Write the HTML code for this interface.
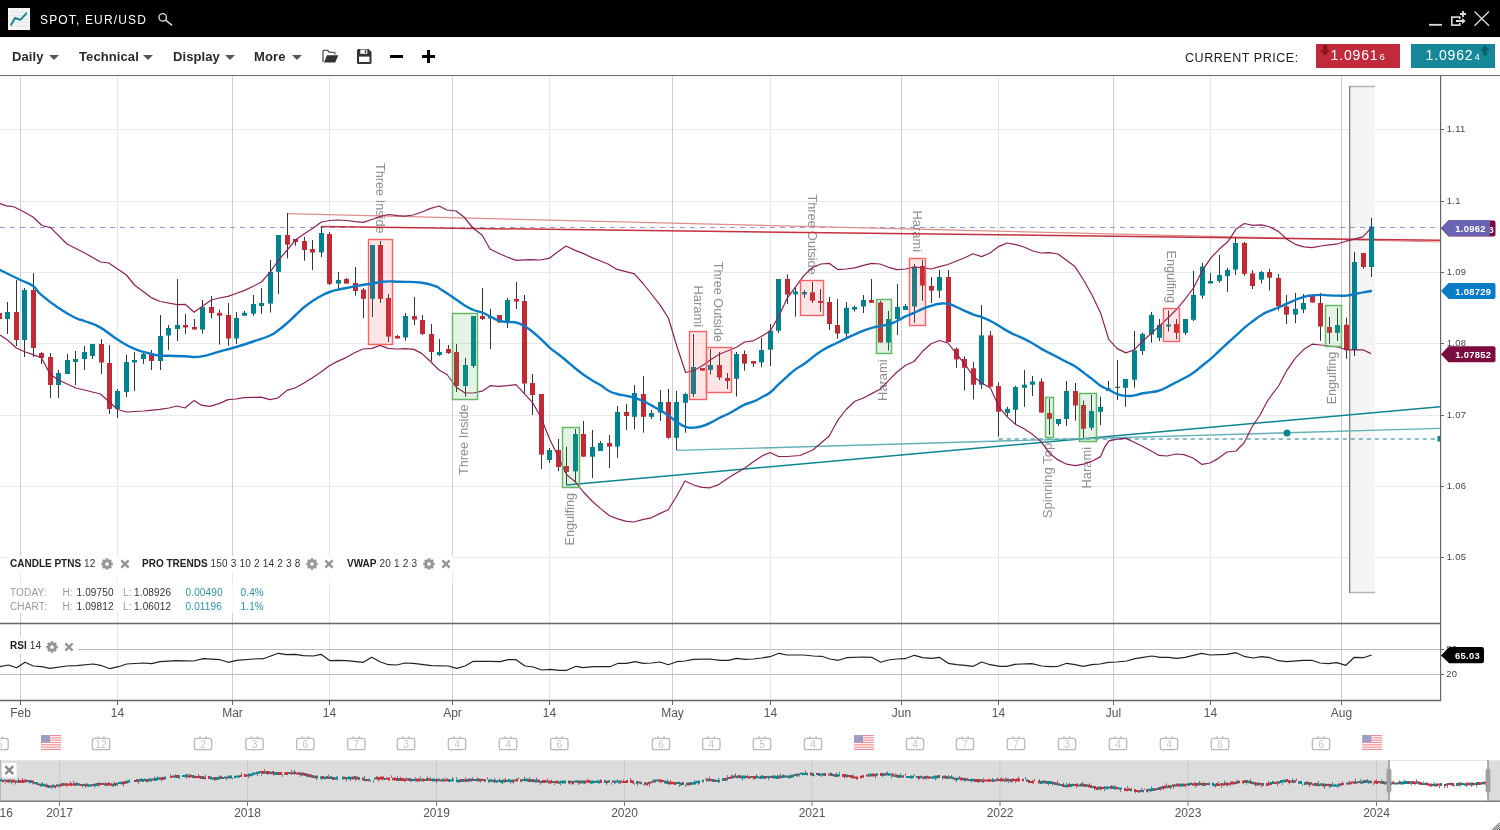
<!DOCTYPE html>
<html><head><meta charset="utf-8"><title>SPOT, EUR/USD</title>
<style>
html,body{margin:0;padding:0;background:#fff;}
body{width:1500px;height:830px;overflow:hidden;position:relative;font-family:"Liberation Sans",sans-serif;}
.titlebar{position:absolute;left:0;top:0;width:1500px;height:37px;background:#000;}
.logo{position:absolute;left:8px;top:8px;width:22px;height:22px;background:#f4f4f4;}
.title{position:absolute;left:40px;top:13px;color:#fff;font-size:12px;letter-spacing:1.15px;line-height:14px;white-space:nowrap;}
.toolbar{position:absolute;left:0;top:37px;width:1500px;height:38px;background:#fff;border-bottom:1.5px solid #666;box-sizing:content-box;}
.tb{position:absolute;top:11.5px;font-weight:bold;font-size:13px;line-height:15px;color:#2a2a2a;white-space:nowrap;letter-spacing:0.1px}
.tri{position:absolute;top:18px;width:0;height:0;border-left:5px solid transparent;border-right:5px solid transparent;border-top:5.6px solid #555;margin-left:-0.4px;}
.cp{position:absolute;left:1185px;top:14px;font-size:12.5px;letter-spacing:0.55px;color:#222;line-height:15px;white-space:nowrap;}
.pbox{position:absolute;top:7px;height:23.5px;width:84px;color:#fff;font-size:14px;line-height:23.5px;letter-spacing:0.85px;white-space:nowrap;}
.pbox small{font-size:9.6px;letter-spacing:0;margin-left:1px}
svg.chart{position:absolute;left:0;top:0;}
svg text{font-family:"Liberation Sans",sans-serif;}
.pl{font-size:13px;fill:#8f8f8f;}
.ax{font-size:9.4px;fill:#444;letter-spacing:0.3px;}
.dt{font-size:12px;fill:#555;}
.fl{font-size:9.4px;font-weight:bold;fill:#fff;letter-spacing:0.3px;}
.cn{font-size:10.3px;fill:#c6c6c6;}
.ind{position:absolute;font-size:10px;line-height:12px;color:#333;white-space:nowrap;letter-spacing:0.2px;}
.ind b{color:#222;letter-spacing:0;}
.ic{position:absolute;}
.st{position:absolute;letter-spacing:0.15px;font-size:10px;line-height:12px;white-space:nowrap;color:#333;}
.g{color:#9a9a9a}.t{color:#2a93a3}
</style></head><body>
<svg class="chart" width="1500" height="830" viewBox="0 0 1500 830">
<defs><clipPath id="cm"><rect x="0" y="76" width="1440" height="547"/></clipPath><clipPath id="cr"><rect x="0" y="624" width="1440" height="76"/></clipPath></defs>
<line x1="0" x2="1440" y1="129.5" y2="129.5" stroke="#e9e9e9" stroke-width="1"/>
<line x1="0" x2="1440" y1="201.5" y2="201.5" stroke="#e9e9e9" stroke-width="1"/>
<line x1="0" x2="1440" y1="272.5" y2="272.5" stroke="#e9e9e9" stroke-width="1"/>
<line x1="0" x2="1440" y1="343.5" y2="343.5" stroke="#e9e9e9" stroke-width="1"/>
<line x1="0" x2="1440" y1="415.5" y2="415.5" stroke="#e9e9e9" stroke-width="1"/>
<line x1="0" x2="1440" y1="486.5" y2="486.5" stroke="#e9e9e9" stroke-width="1"/>
<line x1="0" x2="1440" y1="557.5" y2="557.5" stroke="#e9e9e9" stroke-width="1"/>
<line x1="117.5" x2="117.5" y1="76" y2="700" stroke="#e6e6e6" stroke-width="1"/>
<line x1="329.5" x2="329.5" y1="76" y2="700" stroke="#e6e6e6" stroke-width="1"/>
<line x1="549.5" x2="549.5" y1="76" y2="700" stroke="#e6e6e6" stroke-width="1"/>
<line x1="770.5" x2="770.5" y1="76" y2="700" stroke="#e6e6e6" stroke-width="1"/>
<line x1="998.5" x2="998.5" y1="76" y2="700" stroke="#e6e6e6" stroke-width="1"/>
<line x1="1210.5" x2="1210.5" y1="76" y2="700" stroke="#e6e6e6" stroke-width="1"/>
<line x1="20.5" x2="20.5" y1="76" y2="700" stroke="#cfcfcf" stroke-width="1"/>
<line x1="232.5" x2="232.5" y1="76" y2="700" stroke="#cfcfcf" stroke-width="1"/>
<line x1="452.5" x2="452.5" y1="76" y2="700" stroke="#cfcfcf" stroke-width="1"/>
<line x1="672.5" x2="672.5" y1="76" y2="700" stroke="#cfcfcf" stroke-width="1"/>
<line x1="901.5" x2="901.5" y1="76" y2="700" stroke="#cfcfcf" stroke-width="1"/>
<line x1="1113.5" x2="1113.5" y1="76" y2="700" stroke="#cfcfcf" stroke-width="1"/>
<line x1="1341.5" x2="1341.5" y1="76" y2="700" stroke="#cfcfcf" stroke-width="1"/>
<rect x="1350" y="86" width="25" height="507" fill="#f5f5f5"/>
<line x1="1350" x2="1375" y1="86.5" y2="86.5" stroke="#b5b5b5" stroke-width="1.5"/>
<line x1="1350" x2="1375" y1="592.5" y2="592.5" stroke="#b5b5b5" stroke-width="1.5"/>
<line x1="1349.7" x2="1349.7" y1="86" y2="593" stroke="#7f7f7f" stroke-width="1.3"/>
<g clip-path="url(#cm)">
<line x1="0" x2="1440" y1="227.5" y2="227.5" stroke="#9a96d6" stroke-width="1.2" stroke-dasharray="5 5"/>
<text transform="translate(375.6 163.0) rotate(90)" textLength="70.5" lengthAdjust="spacingAndGlyphs" class="pl">Three Inside</text>
<text transform="translate(467.9 475.0) rotate(-90)" textLength="70.5" lengthAdjust="spacingAndGlyphs" class="pl">Three Inside</text>
<text transform="translate(574.0 545.5) rotate(-90)" textLength="52.5" lengthAdjust="spacingAndGlyphs" class="pl">Engulfing</text>
<text transform="translate(693.5 285.5) rotate(90)" textLength="41.5" lengthAdjust="spacingAndGlyphs" class="pl">Harami</text>
<text transform="translate(714.4 261.7) rotate(90)" textLength="80.3" lengthAdjust="spacingAndGlyphs" class="pl">Three Outside</text>
<text transform="translate(807.5 194.4) rotate(90)" textLength="80.3" lengthAdjust="spacingAndGlyphs" class="pl">Three Outside</text>
<text transform="translate(887.0 400.9) rotate(-90)" textLength="41.5" lengthAdjust="spacingAndGlyphs" class="pl">Harami</text>
<text transform="translate(913.4 210.5) rotate(90)" textLength="41.5" lengthAdjust="spacingAndGlyphs" class="pl">Harami</text>
<text transform="translate(1052.3 518.3) rotate(-90)" textLength="75.5" lengthAdjust="spacingAndGlyphs" class="pl">Spinning Top</text>
<text transform="translate(1091.0 488.5) rotate(-90)" textLength="41.5" lengthAdjust="spacingAndGlyphs" class="pl">Harami</text>
<text transform="translate(1167.3 250.5) rotate(90)" textLength="52.5" lengthAdjust="spacingAndGlyphs" class="pl">Engulfing</text>
<text transform="translate(1336.3 404.3) rotate(-90)" textLength="52.5" lengthAdjust="spacingAndGlyphs" class="pl">Engulfing</text>
<line x1="287.2" y1="213.7" x2="1440" y2="242" stroke="#e08c8c" stroke-width="1.2"/>
<line x1="321.4" y1="226.6" x2="1440" y2="240.2" stroke="#c4303e" stroke-width="1.5"/>
<line x1="566.4" y1="485" x2="1440" y2="406.8" stroke="#0d8592" stroke-width="1.5"/>
<line x1="676.5" y1="450.4" x2="1440" y2="428.4" stroke="#62b0b8" stroke-width="1.4"/>
<line x1="998.8" x2="1440" y1="439" y2="439" stroke="#5fa8b0" stroke-width="1.5" stroke-dasharray="4 4"/>
<circle cx="1287" cy="433" r="3.5" fill="#0d8592"/>
<rect x="-1.0" y="313.0" width="1" height="6.0" fill="#2e383a"/>
<rect x="-3.0" y="313.0" width="5" height="6.0" fill="#c22a35"/>
<rect x="7.0" y="302.0" width="1" height="32.0" fill="#2e383a"/>
<rect x="5.0" y="312.0" width="5" height="7.0" fill="#00838f"/>
<rect x="16.0" y="280.0" width="1" height="66.0" fill="#2e383a"/>
<rect x="14.0" y="312.0" width="5" height="28.0" fill="#c22a35"/>
<rect x="24.0" y="288.0" width="1" height="69.0" fill="#2e383a"/>
<rect x="22.0" y="290.0" width="5" height="50.0" fill="#00838f"/>
<rect x="33.0" y="273.0" width="1" height="84.0" fill="#2e383a"/>
<rect x="31.0" y="290.0" width="5" height="58.0" fill="#c22a35"/>
<rect x="41.0" y="352.0" width="1" height="12.0" fill="#2e383a"/>
<rect x="39.0" y="353.0" width="5" height="5.0" fill="#c22a35"/>
<rect x="50.0" y="353.0" width="1" height="45.0" fill="#2e383a"/>
<rect x="48.0" y="357.0" width="5" height="28.0" fill="#c22a35"/>
<rect x="58.0" y="370.0" width="1" height="28.0" fill="#2e383a"/>
<rect x="56.0" y="373.0" width="5" height="12.0" fill="#00838f"/>
<rect x="67.0" y="354.0" width="1" height="20.0" fill="#2e383a"/>
<rect x="65.0" y="360.0" width="5" height="14.0" fill="#00838f"/>
<rect x="75.0" y="351.0" width="1" height="34.0" fill="#2e383a"/>
<rect x="73.0" y="359.0" width="5" height="3.0" fill="#00838f"/>
<rect x="84.0" y="346.0" width="1" height="24.0" fill="#2e383a"/>
<rect x="82.0" y="352.0" width="5" height="7.0" fill="#00838f"/>
<rect x="92.0" y="344.0" width="1" height="15.0" fill="#2e383a"/>
<rect x="90.0" y="344.0" width="5" height="12.0" fill="#00838f"/>
<rect x="101.0" y="339.0" width="1" height="35.0" fill="#2e383a"/>
<rect x="99.0" y="344.0" width="5" height="18.5" fill="#c22a35"/>
<rect x="109.0" y="345.0" width="1" height="69.0" fill="#2e383a"/>
<rect x="107.0" y="363.0" width="5" height="46.0" fill="#c22a35"/>
<rect x="117.0" y="389.0" width="1" height="29.0" fill="#2e383a"/>
<rect x="115.0" y="391.0" width="5" height="18.0" fill="#00838f"/>
<rect x="126.0" y="354.5" width="1" height="42.5" fill="#2e383a"/>
<rect x="124.0" y="362.0" width="5" height="30.0" fill="#00838f"/>
<rect x="134.0" y="352.0" width="1" height="39.0" fill="#2e383a"/>
<rect x="132.0" y="360.0" width="5" height="2.5" fill="#00838f"/>
<rect x="143.0" y="352.0" width="1" height="12.0" fill="#2e383a"/>
<rect x="141.0" y="354.0" width="5" height="5.0" fill="#00838f"/>
<rect x="151.0" y="350.0" width="1" height="20.0" fill="#2e383a"/>
<rect x="149.0" y="354.0" width="5" height="7.0" fill="#c22a35"/>
<rect x="160.0" y="315.0" width="1" height="55.0" fill="#2e383a"/>
<rect x="158.0" y="336.0" width="5" height="25.0" fill="#00838f"/>
<rect x="168.0" y="325.0" width="1" height="25.0" fill="#2e383a"/>
<rect x="166.0" y="328.0" width="5" height="7.5" fill="#00838f"/>
<rect x="177.0" y="279.0" width="1" height="62.0" fill="#2e383a"/>
<rect x="175.0" y="325.0" width="5" height="4.0" fill="#00838f"/>
<rect x="185.0" y="314.0" width="1" height="20.0" fill="#2e383a"/>
<rect x="183.0" y="325.0" width="5" height="2.5" fill="#c22a35"/>
<rect x="194.0" y="319.0" width="1" height="10.5" fill="#2e383a"/>
<rect x="192.0" y="327.0" width="5" height="2.5" fill="#c22a35"/>
<rect x="202.0" y="300.0" width="1" height="33.7" fill="#2e383a"/>
<rect x="200.0" y="307.0" width="5" height="22.6" fill="#00838f"/>
<rect x="211.0" y="296.0" width="1" height="22.5" fill="#2e383a"/>
<rect x="209.0" y="307.0" width="5" height="6.0" fill="#c22a35"/>
<rect x="219.0" y="309.6" width="1" height="35.0" fill="#2e383a"/>
<rect x="217.0" y="312.8" width="5" height="2.9" fill="#c22a35"/>
<rect x="228.0" y="303.0" width="1" height="42.8" fill="#2e383a"/>
<rect x="226.0" y="315.0" width="5" height="23.5" fill="#c22a35"/>
<rect x="236.0" y="312.0" width="1" height="32.0" fill="#2e383a"/>
<rect x="234.0" y="318.0" width="5" height="20.5" fill="#00838f"/>
<rect x="244.0" y="311.0" width="1" height="4.7" fill="#2e383a"/>
<rect x="242.0" y="312.8" width="5" height="2.9" fill="#00838f"/>
<rect x="253.0" y="295.0" width="1" height="20.7" fill="#2e383a"/>
<rect x="251.0" y="304.0" width="5" height="9.7" fill="#00838f"/>
<rect x="261.0" y="288.0" width="1" height="25.7" fill="#2e383a"/>
<rect x="259.0" y="303.0" width="5" height="3.0" fill="#00838f"/>
<rect x="270.0" y="260.0" width="1" height="52.5" fill="#2e383a"/>
<rect x="268.0" y="271.8" width="5" height="31.8" fill="#00838f"/>
<rect x="278.0" y="235.0" width="1" height="59.0" fill="#2e383a"/>
<rect x="276.0" y="235.0" width="5" height="36.8" fill="#00838f"/>
<rect x="287.0" y="213.0" width="1" height="45.5" fill="#2e383a"/>
<rect x="285.0" y="235.0" width="5" height="9.6" fill="#c22a35"/>
<rect x="295.0" y="239.0" width="1" height="6.8" fill="#2e383a"/>
<rect x="293.0" y="239.0" width="5" height="3.0" fill="#c22a35"/>
<rect x="304.0" y="237.0" width="1" height="23.7" fill="#2e383a"/>
<rect x="302.0" y="241.0" width="5" height="9.0" fill="#c22a35"/>
<rect x="312.0" y="240.0" width="1" height="30.0" fill="#2e383a"/>
<rect x="310.0" y="249.0" width="5" height="3.5" fill="#c22a35"/>
<rect x="321.0" y="226.5" width="1" height="30.5" fill="#2e383a"/>
<rect x="319.0" y="233.0" width="5" height="19.5" fill="#00838f"/>
<rect x="329.0" y="232.0" width="1" height="53.0" fill="#2e383a"/>
<rect x="327.0" y="234.0" width="5" height="50.0" fill="#c22a35"/>
<rect x="338.0" y="272.0" width="1" height="17.6" fill="#2e383a"/>
<rect x="336.0" y="280.0" width="5" height="3.6" fill="#00838f"/>
<rect x="346.0" y="278.0" width="1" height="5.6" fill="#2e383a"/>
<rect x="344.0" y="279.0" width="5" height="4.6" fill="#c22a35"/>
<rect x="355.0" y="267.0" width="1" height="28.7" fill="#2e383a"/>
<rect x="353.0" y="283.0" width="5" height="8.0" fill="#c22a35"/>
<rect x="363.0" y="288.0" width="1" height="30.0" fill="#2e383a"/>
<rect x="361.0" y="289.6" width="5" height="9.2" fill="#c22a35"/>
<rect x="372.0" y="245.0" width="1" height="72.0" fill="#2e383a"/>
<rect x="370.0" y="245.0" width="5" height="53.8" fill="#00838f"/>
<rect x="380.0" y="241.0" width="1" height="62.0" fill="#2e383a"/>
<rect x="378.0" y="245.0" width="5" height="53.8" fill="#c22a35"/>
<rect x="388.0" y="294.0" width="1" height="48.0" fill="#2e383a"/>
<rect x="386.0" y="298.0" width="5" height="38.6" fill="#c22a35"/>
<rect x="397.0" y="335.0" width="1" height="3.5" fill="#2e383a"/>
<rect x="395.0" y="336.0" width="5" height="2.5" fill="#c22a35"/>
<rect x="405.0" y="313.0" width="1" height="27.6" fill="#2e383a"/>
<rect x="403.0" y="316.0" width="5" height="21.5" fill="#00838f"/>
<rect x="414.0" y="297.0" width="1" height="28.0" fill="#2e383a"/>
<rect x="412.0" y="316.0" width="5" height="3.6" fill="#c22a35"/>
<rect x="422.0" y="315.0" width="1" height="20.0" fill="#2e383a"/>
<rect x="420.0" y="320.0" width="5" height="14.0" fill="#c22a35"/>
<rect x="431.0" y="324.0" width="1" height="37.0" fill="#2e383a"/>
<rect x="429.0" y="334.0" width="5" height="18.0" fill="#c22a35"/>
<rect x="439.0" y="339.0" width="1" height="17.0" fill="#2e383a"/>
<rect x="437.0" y="352.0" width="5" height="3.0" fill="#00838f"/>
<rect x="448.0" y="345.0" width="1" height="9.0" fill="#2e383a"/>
<rect x="446.0" y="349.0" width="5" height="4.0" fill="#c22a35"/>
<rect x="456.0" y="344.0" width="1" height="48.0" fill="#2e383a"/>
<rect x="454.0" y="352.0" width="5" height="34.0" fill="#c22a35"/>
<rect x="465.0" y="358.0" width="1" height="38.7" fill="#2e383a"/>
<rect x="463.0" y="365.0" width="5" height="21.0" fill="#00838f"/>
<rect x="473.0" y="316.0" width="1" height="51.8" fill="#2e383a"/>
<rect x="471.0" y="316.0" width="5" height="50.0" fill="#00838f"/>
<rect x="482.0" y="288.0" width="1" height="32.0" fill="#2e383a"/>
<rect x="480.0" y="316.0" width="5" height="3.0" fill="#c22a35"/>
<rect x="490.0" y="308.8" width="1" height="40.2" fill="#2e383a"/>
<rect x="488.0" y="316.5" width="5" height="2.0" fill="#00838f"/>
<rect x="499.0" y="315.0" width="1" height="7.5" fill="#2e383a"/>
<rect x="497.0" y="315.0" width="5" height="7.5" fill="#c22a35"/>
<rect x="507.0" y="298.0" width="1" height="30.0" fill="#2e383a"/>
<rect x="505.0" y="300.0" width="5" height="22.0" fill="#00838f"/>
<rect x="516.0" y="282.0" width="1" height="27.0" fill="#2e383a"/>
<rect x="514.0" y="299.0" width="5" height="2.5" fill="#c22a35"/>
<rect x="524.0" y="295.0" width="1" height="98.6" fill="#2e383a"/>
<rect x="522.0" y="301.0" width="5" height="82.5" fill="#c22a35"/>
<rect x="532.0" y="374.0" width="1" height="41.0" fill="#2e383a"/>
<rect x="530.0" y="383.0" width="5" height="12.0" fill="#c22a35"/>
<rect x="541.0" y="394.0" width="1" height="75.0" fill="#2e383a"/>
<rect x="539.0" y="394.0" width="5" height="60.6" fill="#c22a35"/>
<rect x="549.0" y="448.0" width="1" height="15.0" fill="#2e383a"/>
<rect x="547.0" y="450.0" width="5" height="10.0" fill="#00838f"/>
<rect x="558.0" y="439.0" width="1" height="32.0" fill="#2e383a"/>
<rect x="556.0" y="450.0" width="5" height="17.0" fill="#c22a35"/>
<rect x="566.0" y="446.6" width="1" height="38.4" fill="#2e383a"/>
<rect x="564.0" y="466.0" width="5" height="6.0" fill="#c22a35"/>
<rect x="575.0" y="429.0" width="1" height="54.0" fill="#2e383a"/>
<rect x="573.0" y="434.0" width="5" height="37.4" fill="#00838f"/>
<rect x="583.0" y="421.0" width="1" height="35.7" fill="#2e383a"/>
<rect x="581.0" y="434.0" width="5" height="22.7" fill="#c22a35"/>
<rect x="592.0" y="430.0" width="1" height="48.0" fill="#2e383a"/>
<rect x="590.0" y="447.0" width="5" height="9.7" fill="#00838f"/>
<rect x="600.0" y="441.0" width="1" height="10.0" fill="#2e383a"/>
<rect x="598.0" y="443.0" width="5" height="8.0" fill="#00838f"/>
<rect x="609.0" y="435.0" width="1" height="33.0" fill="#2e383a"/>
<rect x="607.0" y="443.0" width="5" height="3.6" fill="#c22a35"/>
<rect x="617.0" y="406.0" width="1" height="51.7" fill="#2e383a"/>
<rect x="615.0" y="412.0" width="5" height="34.6" fill="#00838f"/>
<rect x="626.0" y="404.0" width="1" height="26.0" fill="#2e383a"/>
<rect x="624.0" y="412.0" width="5" height="4.0" fill="#c22a35"/>
<rect x="634.0" y="385.0" width="1" height="44.4" fill="#2e383a"/>
<rect x="632.0" y="393.0" width="5" height="23.8" fill="#00838f"/>
<rect x="643.0" y="376.0" width="1" height="56.7" fill="#2e383a"/>
<rect x="641.0" y="394.0" width="5" height="22.8" fill="#c22a35"/>
<rect x="651.0" y="410.0" width="1" height="9.0" fill="#2e383a"/>
<rect x="649.0" y="413.0" width="5" height="3.8" fill="#00838f"/>
<rect x="660.0" y="390.0" width="1" height="31.0" fill="#2e383a"/>
<rect x="658.0" y="402.0" width="5" height="10.5" fill="#00838f"/>
<rect x="668.0" y="389.0" width="1" height="49.8" fill="#2e383a"/>
<rect x="666.0" y="402.0" width="5" height="35.8" fill="#c22a35"/>
<rect x="676.0" y="391.0" width="1" height="59.0" fill="#2e383a"/>
<rect x="674.0" y="402.0" width="5" height="35.8" fill="#00838f"/>
<rect x="685.0" y="392.7" width="1" height="40.0" fill="#2e383a"/>
<rect x="683.0" y="394.0" width="5" height="8.8" fill="#00838f"/>
<rect x="693.0" y="334.0" width="1" height="63.0" fill="#2e383a"/>
<rect x="691.0" y="367.0" width="5" height="27.0" fill="#00838f"/>
<rect x="702.0" y="368.0" width="1" height="2.7" fill="#2e383a"/>
<rect x="700.0" y="368.0" width="5" height="2.7" fill="#c22a35"/>
<rect x="710.0" y="349.0" width="1" height="25.5" fill="#2e383a"/>
<rect x="708.0" y="365.0" width="5" height="5.0" fill="#00838f"/>
<rect x="719.0" y="352.0" width="1" height="28.0" fill="#2e383a"/>
<rect x="717.0" y="365.0" width="5" height="12.5" fill="#c22a35"/>
<rect x="727.0" y="373.0" width="1" height="16.0" fill="#2e383a"/>
<rect x="725.0" y="378.0" width="5" height="3.0" fill="#c22a35"/>
<rect x="736.0" y="352.0" width="1" height="44.5" fill="#2e383a"/>
<rect x="734.0" y="354.0" width="5" height="24.8" fill="#00838f"/>
<rect x="744.0" y="350.5" width="1" height="20.2" fill="#2e383a"/>
<rect x="742.0" y="354.0" width="5" height="9.6" fill="#c22a35"/>
<rect x="753.0" y="361.0" width="1" height="6.0" fill="#2e383a"/>
<rect x="751.0" y="361.0" width="5" height="2.6" fill="#c22a35"/>
<rect x="761.0" y="337.8" width="1" height="29.2" fill="#2e383a"/>
<rect x="759.0" y="350.0" width="5" height="12.4" fill="#00838f"/>
<rect x="770.0" y="324.0" width="1" height="42.0" fill="#2e383a"/>
<rect x="768.0" y="330.7" width="5" height="19.0" fill="#00838f"/>
<rect x="778.0" y="279.0" width="1" height="54.0" fill="#2e383a"/>
<rect x="776.0" y="279.0" width="5" height="51.7" fill="#00838f"/>
<rect x="787.0" y="274.5" width="1" height="29.5" fill="#2e383a"/>
<rect x="785.0" y="279.0" width="5" height="15.5" fill="#c22a35"/>
<rect x="795.0" y="287.6" width="1" height="29.1" fill="#2e383a"/>
<rect x="793.0" y="291.4" width="5" height="3.0" fill="#00838f"/>
<rect x="804.0" y="290.0" width="1" height="7.7" fill="#2e383a"/>
<rect x="802.0" y="292.0" width="5" height="2.4" fill="#00838f"/>
<rect x="812.0" y="281.7" width="1" height="21.3" fill="#2e383a"/>
<rect x="810.0" y="292.4" width="5" height="8.3" fill="#c22a35"/>
<rect x="820.0" y="289.0" width="1" height="22.6" fill="#2e383a"/>
<rect x="818.0" y="301.0" width="5" height="2.0" fill="#c22a35"/>
<rect x="829.0" y="297.0" width="1" height="33.0" fill="#2e383a"/>
<rect x="827.0" y="302.0" width="5" height="22.0" fill="#c22a35"/>
<rect x="837.0" y="299.0" width="1" height="39.7" fill="#2e383a"/>
<rect x="835.0" y="325.0" width="5" height="8.6" fill="#c22a35"/>
<rect x="846.0" y="302.0" width="1" height="36.0" fill="#2e383a"/>
<rect x="844.0" y="307.8" width="5" height="25.8" fill="#00838f"/>
<rect x="854.0" y="305.8" width="1" height="5.8" fill="#2e383a"/>
<rect x="852.0" y="307.0" width="5" height="2.6" fill="#00838f"/>
<rect x="863.0" y="295.0" width="1" height="18.0" fill="#2e383a"/>
<rect x="861.0" y="300.0" width="5" height="6.5" fill="#00838f"/>
<rect x="871.0" y="279.0" width="1" height="24.0" fill="#2e383a"/>
<rect x="869.0" y="300.0" width="5" height="2.8" fill="#c22a35"/>
<rect x="880.0" y="300.7" width="1" height="41.8" fill="#2e383a"/>
<rect x="878.0" y="302.5" width="5" height="40.0" fill="#c22a35"/>
<rect x="888.0" y="311.0" width="1" height="39.6" fill="#2e383a"/>
<rect x="886.0" y="319.0" width="5" height="23.5" fill="#00838f"/>
<rect x="897.0" y="284.0" width="1" height="51.0" fill="#2e383a"/>
<rect x="895.0" y="307.0" width="5" height="12.0" fill="#00838f"/>
<rect x="905.0" y="304.0" width="1" height="6.0" fill="#2e383a"/>
<rect x="903.0" y="306.0" width="5" height="4.0" fill="#00838f"/>
<rect x="914.0" y="264.0" width="1" height="59.0" fill="#2e383a"/>
<rect x="912.0" y="266.6" width="5" height="39.9" fill="#00838f"/>
<rect x="922.0" y="260.0" width="1" height="40.7" fill="#2e383a"/>
<rect x="920.0" y="266.0" width="5" height="19.5" fill="#c22a35"/>
<rect x="931.0" y="277.0" width="1" height="26.0" fill="#2e383a"/>
<rect x="929.0" y="286.0" width="5" height="4.6" fill="#c22a35"/>
<rect x="939.0" y="270.0" width="1" height="28.0" fill="#2e383a"/>
<rect x="937.0" y="277.0" width="5" height="13.6" fill="#00838f"/>
<rect x="948.0" y="270.0" width="1" height="72.0" fill="#2e383a"/>
<rect x="946.0" y="277.0" width="5" height="65.0" fill="#c22a35"/>
<rect x="956.0" y="347.5" width="1" height="20.3" fill="#2e383a"/>
<rect x="954.0" y="348.8" width="5" height="10.6" fill="#c22a35"/>
<rect x="964.0" y="356.4" width="1" height="34.1" fill="#2e383a"/>
<rect x="962.0" y="359.0" width="5" height="8.8" fill="#c22a35"/>
<rect x="973.0" y="362.0" width="1" height="37.4" fill="#2e383a"/>
<rect x="971.0" y="368.3" width="5" height="16.4" fill="#c22a35"/>
<rect x="981.0" y="305.0" width="1" height="83.8" fill="#2e383a"/>
<rect x="979.0" y="335.4" width="5" height="49.3" fill="#00838f"/>
<rect x="990.0" y="331.0" width="1" height="55.8" fill="#2e383a"/>
<rect x="988.0" y="335.4" width="5" height="51.4" fill="#c22a35"/>
<rect x="998.0" y="382.3" width="1" height="54.2" fill="#2e383a"/>
<rect x="996.0" y="386.0" width="5" height="25.7" fill="#c22a35"/>
<rect x="1007.0" y="406.8" width="1" height="9.6" fill="#2e383a"/>
<rect x="1005.0" y="408.8" width="5" height="4.2" fill="#00838f"/>
<rect x="1015.0" y="385.8" width="1" height="38.2" fill="#2e383a"/>
<rect x="1013.0" y="387.0" width="5" height="22.8" fill="#00838f"/>
<rect x="1024.0" y="370.0" width="1" height="36.8" fill="#2e383a"/>
<rect x="1022.0" y="384.7" width="5" height="3.1" fill="#00838f"/>
<rect x="1032.0" y="375.9" width="1" height="20.0" fill="#2e383a"/>
<rect x="1030.0" y="381.5" width="5" height="3.2" fill="#00838f"/>
<rect x="1041.0" y="378.4" width="1" height="34.2" fill="#2e383a"/>
<rect x="1039.0" y="381.5" width="5" height="31.1" fill="#c22a35"/>
<rect x="1049.0" y="398.7" width="1" height="36.3" fill="#2e383a"/>
<rect x="1047.0" y="413.0" width="5" height="6.0" fill="#c22a35"/>
<rect x="1058.0" y="419.0" width="1" height="7.0" fill="#2e383a"/>
<rect x="1056.0" y="419.0" width="5" height="5.0" fill="#00838f"/>
<rect x="1066.0" y="381.0" width="1" height="45.0" fill="#2e383a"/>
<rect x="1064.0" y="391.0" width="5" height="28.0" fill="#00838f"/>
<rect x="1075.0" y="383.0" width="1" height="37.7" fill="#2e383a"/>
<rect x="1073.0" y="391.0" width="5" height="14.5" fill="#c22a35"/>
<rect x="1083.0" y="400.4" width="1" height="37.5" fill="#2e383a"/>
<rect x="1081.0" y="405.0" width="5" height="23.8" fill="#c22a35"/>
<rect x="1091.0" y="394.9" width="1" height="35.4" fill="#2e383a"/>
<rect x="1089.0" y="411.0" width="5" height="16.8" fill="#00838f"/>
<rect x="1100.0" y="396.6" width="1" height="28.4" fill="#2e383a"/>
<rect x="1098.0" y="406.8" width="5" height="5.0" fill="#00838f"/>
<rect x="1108.0" y="381.0" width="1" height="10.0" fill="#2e383a"/>
<rect x="1106.0" y="388.3" width="5" height="2.7" fill="#00838f"/>
<rect x="1117.0" y="360.0" width="1" height="40.0" fill="#2e383a"/>
<rect x="1115.0" y="386.8" width="5" height="1" fill="#2e383a"/>
<rect x="1125.0" y="379.0" width="1" height="27.8" fill="#2e383a"/>
<rect x="1123.0" y="379.0" width="5" height="8.8" fill="#00838f"/>
<rect x="1134.0" y="330.9" width="1" height="56.9" fill="#2e383a"/>
<rect x="1132.0" y="350.3" width="5" height="29.4" fill="#00838f"/>
<rect x="1142.0" y="332.6" width="1" height="22.3" fill="#2e383a"/>
<rect x="1140.0" y="333.9" width="5" height="17.1" fill="#00838f"/>
<rect x="1151.0" y="311.9" width="1" height="30.8" fill="#2e383a"/>
<rect x="1149.0" y="314.9" width="5" height="19.7" fill="#00838f"/>
<rect x="1159.0" y="319.0" width="1" height="22.0" fill="#2e383a"/>
<rect x="1157.0" y="325.0" width="5" height="12.9" fill="#00838f"/>
<rect x="1168.0" y="310.6" width="1" height="21.0" fill="#2e383a"/>
<rect x="1166.0" y="324.5" width="5" height="2.0" fill="#00838f"/>
<rect x="1176.0" y="319.0" width="1" height="20.2" fill="#2e383a"/>
<rect x="1174.0" y="324.0" width="5" height="8.9" fill="#c22a35"/>
<rect x="1185.0" y="319.0" width="1" height="16.0" fill="#2e383a"/>
<rect x="1183.0" y="319.0" width="5" height="13.9" fill="#00838f"/>
<rect x="1193.0" y="270.9" width="1" height="50.1" fill="#2e383a"/>
<rect x="1191.0" y="294.9" width="5" height="24.9" fill="#00838f"/>
<rect x="1202.0" y="262.8" width="1" height="35.9" fill="#2e383a"/>
<rect x="1200.0" y="266.5" width="5" height="29.1" fill="#00838f"/>
<rect x="1210.0" y="272.9" width="1" height="10.6" fill="#2e383a"/>
<rect x="1208.0" y="281.0" width="5" height="2.5" fill="#00838f"/>
<rect x="1219.0" y="255.0" width="1" height="27.7" fill="#2e383a"/>
<rect x="1217.0" y="275.0" width="5" height="6.0" fill="#00838f"/>
<rect x="1227.0" y="267.8" width="1" height="24.1" fill="#2e383a"/>
<rect x="1225.0" y="270.0" width="5" height="6.0" fill="#00838f"/>
<rect x="1235.0" y="238.0" width="1" height="37.0" fill="#2e383a"/>
<rect x="1233.0" y="243.0" width="5" height="26.6" fill="#00838f"/>
<rect x="1244.0" y="241.8" width="1" height="34.2" fill="#2e383a"/>
<rect x="1242.0" y="243.0" width="5" height="30.9" fill="#c22a35"/>
<rect x="1252.0" y="270.3" width="1" height="18.7" fill="#2e383a"/>
<rect x="1250.0" y="273.4" width="5" height="12.6" fill="#c22a35"/>
<rect x="1261.0" y="270.9" width="1" height="12.6" fill="#2e383a"/>
<rect x="1259.0" y="272.0" width="5" height="7.7" fill="#00838f"/>
<rect x="1269.0" y="268.8" width="1" height="21.8" fill="#2e383a"/>
<rect x="1267.0" y="272.0" width="5" height="5.7" fill="#c22a35"/>
<rect x="1278.0" y="273.9" width="1" height="36.7" fill="#2e383a"/>
<rect x="1276.0" y="277.9" width="5" height="28.4" fill="#c22a35"/>
<rect x="1286.0" y="294.9" width="1" height="29.1" fill="#2e383a"/>
<rect x="1284.0" y="306.3" width="5" height="8.3" fill="#c22a35"/>
<rect x="1295.0" y="292.9" width="1" height="30.3" fill="#2e383a"/>
<rect x="1293.0" y="308.8" width="5" height="5.8" fill="#00838f"/>
<rect x="1303.0" y="294.0" width="1" height="19.0" fill="#2e383a"/>
<rect x="1301.0" y="303.0" width="5" height="6.6" fill="#00838f"/>
<rect x="1312.0" y="296.0" width="1" height="6.5" fill="#2e383a"/>
<rect x="1310.0" y="296.0" width="5" height="6.5" fill="#c22a35"/>
<rect x="1320.0" y="292.9" width="1" height="48.0" fill="#2e383a"/>
<rect x="1318.0" y="303.0" width="5" height="23.5" fill="#c22a35"/>
<rect x="1329.0" y="316.9" width="1" height="26.8" fill="#2e383a"/>
<rect x="1327.0" y="327.0" width="5" height="5.8" fill="#c22a35"/>
<rect x="1337.0" y="308.0" width="1" height="33.0" fill="#2e383a"/>
<rect x="1335.0" y="325.0" width="5" height="7.8" fill="#00838f"/>
<rect x="1346.0" y="317.7" width="1" height="41.2" fill="#2e383a"/>
<rect x="1344.0" y="324.7" width="5" height="25.3" fill="#c22a35"/>
<rect x="1354.0" y="251.9" width="1" height="104.1" fill="#2e383a"/>
<rect x="1352.0" y="262.0" width="5" height="88.0" fill="#00838f"/>
<rect x="1363.0" y="253.0" width="1" height="15.8" fill="#2e383a"/>
<rect x="1361.0" y="253.0" width="5" height="14.0" fill="#c22a35"/>
<rect x="1371.0" y="217.7" width="1" height="59.3" fill="#2e383a"/>
<rect x="1369.0" y="226.6" width="5" height="40.4" fill="#00838f"/>
<path d="M0.0 203.6 L6.4 205.9 L13.0 206.5 L20.0 209.7 L33.0 217.0 L42.0 225.5 L50.6 227.6 L67.0 244.0 L83.8 252.5 L100.6 262.0 L108.8 263.0 L126.4 275.0 L134.5 285.0 L151.2 297.6 L160.3 301.5 L177.2 304.7 L185.2 304.3 L194.1 312.2 L200.0 308.0 L211.3 300.0 L219.3 298.0 L228.0 296.4 L236.0 293.5 L244.6 290.4 L253.3 286.3 L261.4 282.0 L270.0 272.3 L278.6 260.0 L287.2 250.0 L295.7 239.8 L304.3 233.7 L312.5 228.4 L321.4 222.0 L329.6 220.5 L338.3 220.0 L346.5 220.5 L355.4 221.7 L363.4 222.4 L372.5 219.3 L380.5 216.4 L388.7 214.5 L397.6 215.7 L405.0 216.2 L413.0 215.0 L422.0 212.0 L430.0 208.6 L439.0 206.0 L447.0 210.0 L456.0 211.0 L464.0 217.0 L473.0 228.0 L482.0 235.0 L490.0 249.0 L498.0 253.0 L507.0 257.0 L516.0 260.4 L530.0 259.6 L540.0 260.0 L549.0 258.4 L557.5 252.0 L566.0 246.0 L575.0 250.4 L583.0 253.4 L592.0 257.6 L600.0 260.8 L608.0 264.0 L617.0 269.4 L626.0 271.6 L634.5 273.8 L643.0 283.5 L651.4 294.0 L660.3 305.4 L668.4 318.0 L676.8 346.0 L685.6 372.5 L693.8 370.7 L702.6 365.6 L710.7 359.8 L719.3 354.3 L727.4 351.0 L736.5 347.2 L744.6 342.0 L753.2 340.8 L761.6 336.3 L770.4 330.7 L778.5 316.8 L787.4 297.8 L795.6 286.8 L804.0 275.4 L812.3 267.8 L820.9 264.0 L829.2 263.3 L837.8 269.6 L846.2 269.0 L854.8 267.8 L863.4 265.3 L871.7 263.3 L880.0 264.0 L888.7 267.3 L897.0 269.6 L905.6 269.0 L914.0 267.0 L922.6 267.8 L931.0 269.0 L939.5 266.6 L947.9 264.5 L956.5 261.0 L964.8 257.7 L973.0 253.8 L981.6 256.6 L990.0 253.0 L998.6 246.6 L1007.0 243.0 L1016.0 244.6 L1024.0 247.0 L1033.0 251.0 L1041.0 253.0 L1049.4 252.6 L1058.0 254.0 L1066.5 260.3 L1075.0 266.6 L1083.6 280.0 L1092.0 295.0 L1100.6 313.1 L1108.9 339.7 L1117.3 348.6 L1125.9 352.9 L1134.2 349.8 L1142.8 341.0 L1151.2 333.4 L1159.8 325.8 L1168.1 317.7 L1176.7 309.3 L1185.1 299.2 L1193.5 288.0 L1202.1 270.9 L1210.7 258.2 L1219.1 249.3 L1227.7 241.8 L1236.1 229.1 L1244.4 223.5 L1253.0 225.3 L1261.6 224.8 L1270.0 227.0 L1278.6 231.6 L1286.9 239.2 L1295.3 244.3 L1303.9 246.8 L1312.2 247.6 L1320.8 246.0 L1329.2 244.8 L1337.8 243.8 L1346.1 241.2 L1354.7 239.2 L1363.1 236.7 L1371.7 227.3" fill="none" stroke="#8c2158" stroke-width="1.2" stroke-linejoin="round"/>
<path d="M0.0 335.0 L7.5 340.0 L16.4 348.0 L24.6 351.7 L33.0 354.6 L41.4 357.7 L50.4 374.6 L58.6 380.0 L75.7 388.0 L84.3 390.0 L100.5 394.0 L109.4 402.0 L117.6 409.5 L126.5 412.0 L143.4 411.0 L150.0 410.4 L160.0 409.4 L169.0 408.0 L177.0 406.0 L185.0 408.0 L194.0 400.4 L202.0 405.4 L210.0 406.4 L219.0 403.6 L228.0 399.6 L236.0 399.0 L244.0 397.6 L252.0 397.4 L261.0 397.2 L270.0 399.6 L278.0 398.0 L287.0 390.4 L295.0 388.0 L304.0 383.0 L312.0 378.0 L321.0 372.0 L329.0 366.0 L337.0 361.6 L346.0 357.6 L354.0 353.0 L363.0 349.0 L372.0 348.4 L380.0 345.4 L388.0 348.4 L397.0 349.0 L405.0 348.6 L414.0 349.4 L422.0 353.6 L430.0 361.0 L439.0 370.0 L447.0 374.5 L456.6 387.6 L465.0 393.0 L473.5 393.0 L482.0 391.2 L490.4 385.7 L498.8 386.4 L507.5 385.7 L516.0 384.7 L524.3 393.6 L532.8 402.8 L541.2 418.0 L549.6 439.0 L558.4 457.0 L566.4 474.5 L575.3 481.7 L583.3 492.0 L592.0 501.0 L600.6 508.6 L609.4 515.7 L617.7 518.9 L626.5 521.4 L633.8 522.0 L643.4 519.4 L651.4 517.8 L660.2 513.4 L668.2 509.7 L676.2 497.0 L685.0 481.0 L693.8 485.0 L701.9 487.3 L709.9 487.8 L718.7 484.6 L727.5 478.5 L736.3 473.0 L745.0 468.0 L753.0 462.0 L762.0 456.0 L770.0 452.5 L778.5 456.5 L787.4 456.5 L800.0 455.5 L812.8 450.0 L821.0 443.0 L829.2 436.0 L837.8 420.2 L846.2 409.5 L854.8 401.2 L863.4 398.0 L871.7 393.6 L880.0 389.3 L888.7 380.4 L897.0 372.0 L905.6 365.3 L914.0 361.5 L922.6 351.3 L931.0 343.7 L939.5 340.5 L947.9 343.0 L956.5 353.9 L964.8 364.0 L973.5 376.6 L981.8 383.0 L990.4 388.0 L998.9 406.8 L1007.2 416.9 L1015.8 424.5 L1024.2 428.8 L1032.8 434.6 L1041.1 441.7 L1049.7 453.6 L1058.0 459.9 L1066.7 464.2 L1075.0 465.7 L1083.6 464.2 L1092.0 461.2 L1100.6 456.6 L1104.6 447.2 L1108.9 440.9 L1117.3 439.1 L1125.9 438.4 L1134.2 442.2 L1142.8 446.5 L1151.2 451.0 L1159.0 455.4 L1167.0 456.0 L1176.0 454.0 L1184.0 454.6 L1193.0 458.0 L1202.0 464.4 L1210.0 463.0 L1218.0 458.6 L1227.0 452.0 L1236.0 451.0 L1244.0 443.0 L1252.0 427.0 L1260.0 415.0 L1268.0 400.0 L1278.6 386.0 L1286.9 370.3 L1295.3 358.1 L1303.9 349.3 L1312.2 344.2 L1320.8 345.0 L1329.2 346.0 L1337.8 346.8 L1346.1 350.0 L1354.7 349.8 L1363.1 349.8 L1370.9 353.6" fill="none" stroke="#8c2158" stroke-width="1.2" stroke-linejoin="round"/>
<rect x="368.5" y="239.5" width="24.0" height="105.0" fill="rgba(255,82,82,0.15)" stroke="#fa6262" stroke-width="1.4"/>
<rect x="452.5" y="313.5" width="25.0" height="86.0" fill="rgba(76,175,80,0.15)" stroke="#66b866" stroke-width="1.5"/>
<rect x="562.5" y="427.5" width="17.0" height="60.0" fill="rgba(76,175,80,0.15)" stroke="#66b866" stroke-width="1.5"/>
<rect x="689.5" y="331.5" width="17.0" height="68.0" fill="rgba(255,82,82,0.15)" stroke="#fa6262" stroke-width="1.4"/>
<rect x="706.5" y="347.5" width="25.0" height="45.0" fill="rgba(255,82,82,0.15)" stroke="#fa6262" stroke-width="1.4"/>
<rect x="800.5" y="280.5" width="23.0" height="35.0" fill="rgba(255,82,82,0.15)" stroke="#fa6262" stroke-width="1.4"/>
<rect x="876.5" y="299.5" width="15.0" height="54.0" fill="rgba(76,175,80,0.15)" stroke="#66b866" stroke-width="1.5"/>
<rect x="909.5" y="258.5" width="16.0" height="67.0" fill="rgba(255,82,82,0.15)" stroke="#fa6262" stroke-width="1.4"/>
<rect x="1045.5" y="397.5" width="8.0" height="40.0" fill="rgba(76,175,80,0.15)" stroke="#66b866" stroke-width="1.5"/>
<rect x="1079.5" y="393.5" width="17.0" height="48.0" fill="rgba(76,175,80,0.15)" stroke="#66b866" stroke-width="1.5"/>
<rect x="1163.5" y="308.5" width="16.0" height="33.0" fill="rgba(255,82,82,0.15)" stroke="#fa6262" stroke-width="1.4"/>
<rect x="1325.5" y="305.5" width="16.0" height="41.0" fill="rgba(76,175,80,0.15)" stroke="#66b866" stroke-width="1.5"/>
<path d="M0.0 270.0 C5.1 272.5 12.2 276.0 20.5 280.0 C28.8 284.0 27.9 282.4 33.0 286.0 C38.1 289.6 34.6 289.1 41.0 294.6 C47.4 300.1 49.9 302.1 58.6 308.0 C67.3 313.9 69.3 314.8 75.7 318.0 C82.1 321.2 78.1 318.6 84.3 321.0 C90.5 323.4 92.2 323.0 100.5 327.6 C108.8 332.2 109.1 334.3 117.6 339.6 C126.1 344.9 126.1 345.2 134.5 348.8 C142.9 352.4 144.9 352.3 151.3 354.0 C157.7 355.7 155.7 355.1 160.0 355.5 C164.3 355.9 162.4 355.6 168.7 355.8 C174.9 356.0 177.2 356.1 185.0 356.3 C192.8 356.5 191.4 357.8 200.0 356.6 C208.6 355.4 210.3 354.0 219.3 351.6 C228.3 349.2 227.5 349.5 236.0 347.0 C244.5 344.5 244.8 344.4 253.3 341.5 C261.8 338.6 263.7 338.4 270.0 335.5 C276.3 332.6 274.3 333.1 278.6 330.0 C282.9 326.9 282.9 326.8 287.2 323.0 C291.5 319.2 291.4 319.0 295.7 315.0 C300.0 311.0 300.1 310.5 304.3 307.0 C308.5 303.5 308.2 303.8 312.5 301.0 C316.8 298.2 317.1 297.9 321.4 295.7 C325.7 293.4 325.4 293.5 329.6 292.0 C333.8 290.5 334.1 290.6 338.3 289.6 C342.5 288.6 342.2 288.8 346.5 288.0 C350.8 287.2 351.2 287.1 355.4 286.3 C359.6 285.5 359.1 285.5 363.4 284.8 C367.7 284.1 368.2 284.3 372.5 283.6 C376.8 282.9 376.4 282.6 380.5 282.0 C384.6 281.4 383.8 281.4 388.7 281.4 C393.6 281.3 392.1 281.5 400.0 281.8 C407.9 282.1 411.8 281.4 420.5 282.5 C429.2 283.6 429.9 284.2 435.0 286.0 C440.1 287.8 436.6 286.8 441.0 289.5 C445.4 292.2 446.5 292.9 452.5 297.0 C458.5 301.1 459.8 302.4 465.0 305.7 C470.2 308.9 469.2 308.3 473.5 310.0 C477.8 311.7 477.8 310.9 482.0 312.5 C486.2 314.1 486.2 314.5 490.4 316.5 C494.6 318.5 494.5 319.2 498.8 320.6 C503.1 322.0 503.2 321.5 507.5 322.0 C511.8 322.5 511.8 321.5 516.0 322.5 C520.2 323.5 520.1 323.6 524.3 326.0 C528.5 328.4 528.6 328.6 532.8 332.0 C537.0 335.4 536.9 335.4 541.2 339.4 C545.5 343.3 545.6 344.1 549.9 347.8 C554.2 351.5 554.1 351.0 558.3 354.3 C562.5 357.6 562.5 357.5 566.7 361.0 C570.9 364.5 571.0 364.9 575.2 368.3 C579.4 371.8 579.4 371.8 583.6 374.8 C587.8 377.8 587.8 377.8 592.0 380.3 C596.2 382.9 596.1 382.3 600.4 385.0 C604.6 387.7 604.8 388.8 609.0 391.0 C613.2 393.2 613.0 392.8 617.3 394.0 C621.6 395.2 621.9 394.9 626.2 395.8 C630.5 396.8 630.3 396.5 634.5 397.8 C638.7 399.1 638.8 399.1 643.0 401.0 C647.2 402.9 647.1 403.0 651.4 405.4 C655.7 407.8 656.0 407.9 660.3 410.4 C664.5 412.9 664.3 412.6 668.4 415.5 C672.5 418.4 672.5 419.0 676.8 421.8 C681.1 424.6 681.4 425.4 685.6 426.9 C689.9 428.3 689.5 427.8 693.8 427.6 C698.0 427.4 698.4 427.2 702.6 426.0 C706.8 424.8 706.5 424.6 710.7 422.6 C714.9 420.6 715.1 420.1 719.3 418.0 C723.5 415.9 723.1 416.4 727.4 414.2 C731.7 412.0 732.2 411.6 736.5 409.2 C740.8 406.8 740.4 406.5 744.6 404.6 C748.8 402.7 749.0 403.4 753.2 401.6 C757.5 399.8 757.3 399.7 761.6 397.3 C765.9 394.9 766.2 395.4 770.4 392.2 C774.6 389.0 774.2 388.4 778.5 384.4 C782.8 380.4 783.1 380.1 787.4 376.3 C791.6 372.6 791.4 372.5 795.5 369.4 C799.6 366.3 797.6 368.5 804.0 364.0 C810.4 359.5 812.5 356.7 820.9 351.3 C829.3 345.9 829.3 346.7 837.8 342.5 C846.3 338.3 846.3 338.1 854.8 334.4 C863.3 330.7 863.2 330.3 871.7 327.8 C880.2 325.3 882.4 326.0 888.7 324.3 C895.0 322.6 892.8 323.0 897.0 321.0 C901.2 319.0 901.4 318.4 905.6 316.4 C909.9 314.4 909.8 314.8 914.0 312.9 C918.2 311.0 918.4 310.6 922.6 308.8 C926.9 307.0 926.8 307.1 931.0 305.8 C935.2 304.6 935.3 304.3 939.5 303.8 C943.7 303.3 943.6 303.0 947.9 303.8 C952.1 304.6 952.3 305.2 956.5 307.0 C960.7 308.8 960.5 309.0 964.8 310.9 C969.0 312.8 969.2 313.0 973.5 314.6 C977.8 316.2 977.6 315.6 981.8 317.2 C986.0 318.8 986.1 318.9 990.4 321.0 C994.7 323.1 994.7 323.3 998.9 325.8 C1003.1 328.3 1003.0 328.5 1007.2 330.9 C1011.4 333.2 1011.5 333.2 1015.8 335.2 C1020.0 337.2 1020.0 336.8 1024.2 338.9 C1028.5 341.0 1028.6 341.1 1032.8 343.5 C1037.0 345.9 1036.9 346.2 1041.1 348.6 C1045.3 351.0 1045.5 350.9 1049.7 353.1 C1053.9 355.3 1053.8 355.2 1058.0 357.4 C1062.2 359.6 1062.5 359.8 1066.7 362.0 C1071.0 364.2 1070.8 363.6 1075.0 366.3 C1079.2 369.0 1079.3 369.5 1083.6 372.6 C1087.8 375.8 1087.8 375.6 1092.0 378.9 C1096.2 382.2 1096.4 383.1 1100.6 385.8 C1104.8 388.5 1104.7 387.7 1108.9 389.8 C1113.1 391.9 1113.0 392.6 1117.3 394.1 C1121.5 395.6 1121.7 395.6 1125.9 395.9 C1130.1 396.2 1130.0 396.0 1134.2 395.4 C1138.4 394.8 1138.5 394.1 1142.8 393.3 C1147.0 392.5 1147.0 392.9 1151.2 392.1 C1155.5 391.4 1155.6 391.7 1159.8 390.3 C1164.0 388.9 1163.9 388.6 1168.1 386.5 C1172.3 384.4 1172.5 384.2 1176.7 382.0 C1181.0 379.8 1180.8 380.0 1185.1 377.7 C1189.3 375.4 1189.5 375.6 1193.7 372.6 C1198.0 369.6 1197.8 369.1 1202.1 365.7 C1206.3 362.3 1206.5 362.6 1210.7 358.9 C1215.0 355.2 1214.8 355.0 1219.1 351.0 C1223.3 347.0 1223.5 346.9 1227.7 343.0 C1232.0 339.1 1231.9 339.2 1236.1 335.4 C1240.3 331.6 1240.2 331.4 1244.4 327.8 C1248.6 324.2 1248.7 324.2 1253.0 321.0 C1257.3 317.8 1257.3 317.6 1261.6 315.0 C1265.8 312.4 1265.8 312.7 1270.0 310.8 C1274.2 308.9 1274.4 309.3 1278.6 307.5 C1282.8 305.7 1282.7 305.6 1286.9 303.7 C1291.1 301.8 1291.0 301.7 1295.3 300.0 C1299.5 298.3 1299.7 298.0 1303.9 296.9 C1308.1 295.8 1308.0 295.9 1312.2 295.4 C1316.4 294.9 1316.5 294.9 1320.8 294.9 C1325.0 294.9 1325.0 295.2 1329.2 295.4 C1333.5 295.6 1333.6 295.6 1337.8 295.6 C1342.0 295.7 1341.9 296.0 1346.1 295.6 C1350.3 295.2 1350.5 294.9 1354.7 294.1 C1359.0 293.3 1359.0 293.2 1363.1 292.4 C1367.1 291.6 1369.0 291.4 1370.9 291.0" fill="none" stroke="#0a7bc6" stroke-width="2.4" stroke-linejoin="round" stroke-linecap="round"/>
</g>
<rect x="1437.5" y="436" width="3" height="5.5" fill="#0d8592"/>
<rect x="8" y="555.5" width="445" height="17.5" fill="#fff" opacity="0.93"/>
<rect x="8" y="585" width="262" height="28" fill="#fff" opacity="0.85"/>
<rect x="8" y="573" width="445" height="12" fill="#fff" opacity="0.5"/>
<line x1="0" x2="1440" y1="623.5" y2="623.5" stroke="#666" stroke-width="1.3"/>
<line x1="0" x2="1440" y1="649.5" y2="649.5" stroke="#bdbdbd" stroke-width="1"/>
<line x1="0" x2="1440" y1="674.5" y2="674.5" stroke="#bdbdbd" stroke-width="1"/>
<rect x="0" y="637" width="78" height="17" fill="#fff"/>
<path d="M0.0 666.7 L8.3 665.0 L16.7 667.7 L25.0 662.3 L33.3 666.0 L41.7 666.7 L50.0 668.3 L66.7 666.0 L76.7 665.7 L93.3 664.0 L101.7 665.7 L110.0 668.7 L118.3 666.7 L126.7 664.0 L143.3 663.0 L151.7 663.7 L160.0 661.7 L176.7 660.7 L193.3 661.0 L203.3 658.7 L220.0 659.7 L228.3 662.3 L236.7 660.3 L253.3 659.0 L263.3 658.7 L278.3 653.3 L286.7 654.7 L295.0 654.3 L303.3 655.7 L313.3 656.0 L321.0 654.3 L330.0 660.7 L338.3 660.3 L346.7 660.7 L363.3 662.3 L371.7 657.3 L380.0 661.7 L388.3 664.7 L396.7 665.0 L405.0 663.0 L413.3 663.3 L431.7 665.7 L448.3 666.0 L456.7 668.3 L465.0 666.0 L473.3 661.3 L490.0 661.3 L500.0 661.7 L508.3 659.7 L516.0 659.7 L525.0 666.0 L533.3 667.0 L541.7 670.0 L550.0 669.3 L559.3 670.3 L566.7 670.3 L576.0 666.3 L583.3 667.7 L593.3 666.7 L610.0 666.7 L618.3 663.3 L626.7 663.3 L635.0 661.7 L643.3 663.3 L651.7 663.0 L660.0 662.0 L668.3 664.7 L676.7 661.7 L685.0 661.0 L693.3 659.3 L710.0 659.0 L720.0 660.3 L728.3 660.3 L736.7 658.3 L745.0 659.3 L753.3 659.0 L761.7 658.0 L770.0 656.7 L779.0 653.3 L786.7 655.0 L803.3 655.0 L813.3 656.0 L821.7 656.3 L830.0 659.0 L838.3 660.3 L846.7 657.7 L863.3 657.0 L871.7 657.3 L880.7 662.3 L888.3 660.0 L896.7 659.0 L905.0 658.7 L914.3 655.3 L922.7 657.7 L931.7 658.3 L939.3 657.3 L948.3 663.3 L956.7 664.7 L965.0 665.3 L973.3 666.3 L981.7 662.0 L990.0 664.7 L1000.0 666.3 L1006.7 666.3 L1015.0 664.3 L1031.7 663.7 L1041.7 666.0 L1050.0 666.7 L1058.3 666.3 L1066.7 663.3 L1075.0 664.7 L1083.3 666.3 L1091.7 664.7 L1100.0 664.0 L1108.3 662.3 L1116.7 662.0 L1126.7 661.0 L1135.0 658.7 L1143.3 657.3 L1151.7 656.0 L1160.0 657.3 L1168.3 657.3 L1176.7 658.3 L1185.0 657.3 L1193.3 655.3 L1201.7 653.3 L1210.0 655.0 L1226.7 654.3 L1236.0 652.7 L1245.0 656.7 L1253.3 658.0 L1261.7 656.7 L1270.0 657.7 L1278.3 660.7 L1286.7 661.7 L1303.3 660.3 L1311.7 660.3 L1320.0 663.0 L1328.3 663.7 L1336.7 662.7 L1346.0 665.3 L1354.3 657.3 L1363.3 657.7 L1371.7 655.0" fill="none" stroke="#222" stroke-width="1.2" stroke-linejoin="round"/>
<line x1="0" x2="1441" y1="700.5" y2="700.5" stroke="#666" stroke-width="1.5"/>
<line x1="1440.6" x2="1440.6" y1="76" y2="701" stroke="#666" stroke-width="1.2"/>
<line x1="20.5" x2="20.5" y1="700" y2="705" stroke="#666" stroke-width="1"/>
<line x1="232.5" x2="232.5" y1="700" y2="705" stroke="#666" stroke-width="1"/>
<line x1="452.5" x2="452.5" y1="700" y2="705" stroke="#666" stroke-width="1"/>
<line x1="672.5" x2="672.5" y1="700" y2="705" stroke="#666" stroke-width="1"/>
<line x1="901.5" x2="901.5" y1="700" y2="705" stroke="#666" stroke-width="1"/>
<line x1="1113.5" x2="1113.5" y1="700" y2="705" stroke="#666" stroke-width="1"/>
<line x1="1341.5" x2="1341.5" y1="700" y2="705" stroke="#666" stroke-width="1"/>
<line x1="117.5" x2="117.5" y1="700" y2="705" stroke="#666" stroke-width="1"/>
<line x1="329.5" x2="329.5" y1="700" y2="705" stroke="#666" stroke-width="1"/>
<line x1="549.5" x2="549.5" y1="700" y2="705" stroke="#666" stroke-width="1"/>
<line x1="770.5" x2="770.5" y1="700" y2="705" stroke="#666" stroke-width="1"/>
<line x1="998.5" x2="998.5" y1="700" y2="705" stroke="#666" stroke-width="1"/>
<line x1="1210.5" x2="1210.5" y1="700" y2="705" stroke="#666" stroke-width="1"/>
<line x1="1440" x2="1444" y1="129.5" y2="129.5" stroke="#666" stroke-width="1"/>
<text x="1446.8" y="132.0" class="ax">1.11</text>
<line x1="1440" x2="1444" y1="201.5" y2="201.5" stroke="#666" stroke-width="1"/>
<text x="1446.8" y="204.0" class="ax">1.1</text>
<line x1="1440" x2="1444" y1="272.5" y2="272.5" stroke="#666" stroke-width="1"/>
<text x="1446.8" y="275.0" class="ax">1.09</text>
<line x1="1440" x2="1444" y1="343.5" y2="343.5" stroke="#666" stroke-width="1"/>
<text x="1446.8" y="346.0" class="ax">1.08</text>
<line x1="1440" x2="1444" y1="415.5" y2="415.5" stroke="#666" stroke-width="1"/>
<text x="1446.8" y="418.0" class="ax">1.07</text>
<line x1="1440" x2="1444" y1="486.5" y2="486.5" stroke="#666" stroke-width="1"/>
<text x="1446.8" y="489.0" class="ax">1.06</text>
<line x1="1440" x2="1444" y1="557.5" y2="557.5" stroke="#666" stroke-width="1"/>
<text x="1446.8" y="560.0" class="ax">1.05</text>
<line x1="1440" x2="1444" y1="649.5" y2="649.5" stroke="#666" stroke-width="1"/>
<line x1="1440" x2="1444" y1="674.5" y2="674.5" stroke="#666" stroke-width="1"/>
<text x="1446.3" y="651.9" class="ax">80</text>
<text x="1446.3" y="676.8" class="ax">20</text>
<text x="20.5" y="716.5" text-anchor="middle" class="dt">Feb</text>
<text x="117.5" y="716.5" text-anchor="middle" class="dt">14</text>
<text x="232.5" y="716.5" text-anchor="middle" class="dt">Mar</text>
<text x="329.5" y="716.5" text-anchor="middle" class="dt">14</text>
<text x="452.5" y="716.5" text-anchor="middle" class="dt">Apr</text>
<text x="549.5" y="716.5" text-anchor="middle" class="dt">14</text>
<text x="672.5" y="716.5" text-anchor="middle" class="dt">May</text>
<text x="770.5" y="716.5" text-anchor="middle" class="dt">14</text>
<text x="901.5" y="716.5" text-anchor="middle" class="dt">Jun</text>
<text x="998.5" y="716.5" text-anchor="middle" class="dt">14</text>
<text x="1113.5" y="716.5" text-anchor="middle" class="dt">Jul</text>
<text x="1210.5" y="716.5" text-anchor="middle" class="dt">14</text>
<text x="1341.5" y="716.5" text-anchor="middle" class="dt">Aug</text>
<path d="M1441 228.6 L1448.5 220.6 H1493.5 a2 2 0 0 1 2 2 V234.6 a2 2 0 0 1 -2 2 H1448.5 Z" fill="#7b0c42"/>
<text x="1488.6" y="232.5" class="fl">3</text>
<path d="M1441 227.9 L1448.5 219.9 H1488.0 a2 2 0 0 1 2 2 V233.9 a2 2 0 0 1 -2 2 H1448.5 Z" fill="#6a62b2"/>
<text x="1455.3" y="231.6" class="fl">1.0962</text>
<path d="M1441 291.1 L1448.5 283.1 H1493.5 a2 2 0 0 1 2 2 V297.1 a2 2 0 0 1 -2 2 H1448.5 Z" fill="#0a7bc6"/>
<text x="1455.3" y="294.8" class="fl">1.08729</text>
<path d="M1441 354.3 L1448.5 346.3 H1493.5 a2 2 0 0 1 2 2 V360.3 a2 2 0 0 1 -2 2 H1448.5 Z" fill="#7b0c42"/>
<text x="1455.3" y="358.0" class="fl">1.07852</text>
<path d="M1441 655.5 L1449.2 647.1 H1481.7 a2.3 2.3 0 0 1 2.3 2.3 V661 a2.3 2.3 0 0 1 -2.3 2.3 H1449.2 Z" fill="#000"/>
<text x="1455" y="658.9" class="fl">65.03</text>
<g stroke="#b9b9b9" fill="none" stroke-width="1.3"><rect x="-9.2" y="738.3" width="17.4" height="11.4" rx="2.2"/><line x1="-3.5" x2="-3.5" y1="736.3" y2="738.6"/><line x1="2.5" x2="2.5" y1="736.3" y2="738.6"/></g>
<text x="-0.5" y="748" text-anchor="middle" class="cn">5</text>
<g stroke="#b9b9b9" fill="none" stroke-width="1.3"><rect x="92.3" y="738.3" width="17.4" height="11.4" rx="2.2"/><line x1="98.0" x2="98.0" y1="736.3" y2="738.6"/><line x1="104.0" x2="104.0" y1="736.3" y2="738.6"/></g>
<text x="101.0" y="748" text-anchor="middle" class="cn">12</text>
<g stroke="#b9b9b9" fill="none" stroke-width="1.3"><rect x="194.3" y="738.3" width="17.4" height="11.4" rx="2.2"/><line x1="200.0" x2="200.0" y1="736.3" y2="738.6"/><line x1="206.0" x2="206.0" y1="736.3" y2="738.6"/></g>
<text x="203.0" y="748" text-anchor="middle" class="cn">2</text>
<g stroke="#b9b9b9" fill="none" stroke-width="1.3"><rect x="245.8" y="738.3" width="17.4" height="11.4" rx="2.2"/><line x1="251.5" x2="251.5" y1="736.3" y2="738.6"/><line x1="257.5" x2="257.5" y1="736.3" y2="738.6"/></g>
<text x="254.5" y="748" text-anchor="middle" class="cn">3</text>
<g stroke="#b9b9b9" fill="none" stroke-width="1.3"><rect x="296.6" y="738.3" width="17.4" height="11.4" rx="2.2"/><line x1="302.3" x2="302.3" y1="736.3" y2="738.6"/><line x1="308.3" x2="308.3" y1="736.3" y2="738.6"/></g>
<text x="305.3" y="748" text-anchor="middle" class="cn">6</text>
<g stroke="#b9b9b9" fill="none" stroke-width="1.3"><rect x="347.6" y="738.3" width="17.4" height="11.4" rx="2.2"/><line x1="353.3" x2="353.3" y1="736.3" y2="738.6"/><line x1="359.3" x2="359.3" y1="736.3" y2="738.6"/></g>
<text x="356.3" y="748" text-anchor="middle" class="cn">7</text>
<g stroke="#b9b9b9" fill="none" stroke-width="1.3"><rect x="397.3" y="738.3" width="17.4" height="11.4" rx="2.2"/><line x1="403.0" x2="403.0" y1="736.3" y2="738.6"/><line x1="409.0" x2="409.0" y1="736.3" y2="738.6"/></g>
<text x="406.0" y="748" text-anchor="middle" class="cn">3</text>
<g stroke="#b9b9b9" fill="none" stroke-width="1.3"><rect x="448.3" y="738.3" width="17.4" height="11.4" rx="2.2"/><line x1="454.0" x2="454.0" y1="736.3" y2="738.6"/><line x1="460.0" x2="460.0" y1="736.3" y2="738.6"/></g>
<text x="457.0" y="748" text-anchor="middle" class="cn">4</text>
<g stroke="#b9b9b9" fill="none" stroke-width="1.3"><rect x="499.3" y="738.3" width="17.4" height="11.4" rx="2.2"/><line x1="505.0" x2="505.0" y1="736.3" y2="738.6"/><line x1="511.0" x2="511.0" y1="736.3" y2="738.6"/></g>
<text x="508.0" y="748" text-anchor="middle" class="cn">4</text>
<g stroke="#b9b9b9" fill="none" stroke-width="1.3"><rect x="550.6" y="738.3" width="17.4" height="11.4" rx="2.2"/><line x1="556.3" x2="556.3" y1="736.3" y2="738.6"/><line x1="562.3" x2="562.3" y1="736.3" y2="738.6"/></g>
<text x="559.3" y="748" text-anchor="middle" class="cn">6</text>
<g stroke="#b9b9b9" fill="none" stroke-width="1.3"><rect x="652.3" y="738.3" width="17.4" height="11.4" rx="2.2"/><line x1="658.0" x2="658.0" y1="736.3" y2="738.6"/><line x1="664.0" x2="664.0" y1="736.3" y2="738.6"/></g>
<text x="661.0" y="748" text-anchor="middle" class="cn">6</text>
<g stroke="#b9b9b9" fill="none" stroke-width="1.3"><rect x="702.6" y="738.3" width="17.4" height="11.4" rx="2.2"/><line x1="708.3" x2="708.3" y1="736.3" y2="738.6"/><line x1="714.3" x2="714.3" y1="736.3" y2="738.6"/></g>
<text x="711.3" y="748" text-anchor="middle" class="cn">4</text>
<g stroke="#b9b9b9" fill="none" stroke-width="1.3"><rect x="753.3" y="738.3" width="17.4" height="11.4" rx="2.2"/><line x1="759.0" x2="759.0" y1="736.3" y2="738.6"/><line x1="765.0" x2="765.0" y1="736.3" y2="738.6"/></g>
<text x="762.0" y="748" text-anchor="middle" class="cn">5</text>
<g stroke="#b9b9b9" fill="none" stroke-width="1.3"><rect x="804.3" y="738.3" width="17.4" height="11.4" rx="2.2"/><line x1="810.0" x2="810.0" y1="736.3" y2="738.6"/><line x1="816.0" x2="816.0" y1="736.3" y2="738.6"/></g>
<text x="813.0" y="748" text-anchor="middle" class="cn">4</text>
<g stroke="#b9b9b9" fill="none" stroke-width="1.3"><rect x="906.3" y="738.3" width="17.4" height="11.4" rx="2.2"/><line x1="912.0" x2="912.0" y1="736.3" y2="738.6"/><line x1="918.0" x2="918.0" y1="736.3" y2="738.6"/></g>
<text x="915.0" y="748" text-anchor="middle" class="cn">4</text>
<g stroke="#b9b9b9" fill="none" stroke-width="1.3"><rect x="956.3" y="738.3" width="17.4" height="11.4" rx="2.2"/><line x1="962.0" x2="962.0" y1="736.3" y2="738.6"/><line x1="968.0" x2="968.0" y1="736.3" y2="738.6"/></g>
<text x="965.0" y="748" text-anchor="middle" class="cn">7</text>
<g stroke="#b9b9b9" fill="none" stroke-width="1.3"><rect x="1007.3" y="738.3" width="17.4" height="11.4" rx="2.2"/><line x1="1013.0" x2="1013.0" y1="736.3" y2="738.6"/><line x1="1019.0" x2="1019.0" y1="736.3" y2="738.6"/></g>
<text x="1016.0" y="748" text-anchor="middle" class="cn">7</text>
<g stroke="#b9b9b9" fill="none" stroke-width="1.3"><rect x="1058.3" y="738.3" width="17.4" height="11.4" rx="2.2"/><line x1="1064.0" x2="1064.0" y1="736.3" y2="738.6"/><line x1="1070.0" x2="1070.0" y1="736.3" y2="738.6"/></g>
<text x="1067.0" y="748" text-anchor="middle" class="cn">3</text>
<g stroke="#b9b9b9" fill="none" stroke-width="1.3"><rect x="1109.3" y="738.3" width="17.4" height="11.4" rx="2.2"/><line x1="1115.0" x2="1115.0" y1="736.3" y2="738.6"/><line x1="1121.0" x2="1121.0" y1="736.3" y2="738.6"/></g>
<text x="1118.0" y="748" text-anchor="middle" class="cn">4</text>
<g stroke="#b9b9b9" fill="none" stroke-width="1.3"><rect x="1160.3" y="738.3" width="17.4" height="11.4" rx="2.2"/><line x1="1166.0" x2="1166.0" y1="736.3" y2="738.6"/><line x1="1172.0" x2="1172.0" y1="736.3" y2="738.6"/></g>
<text x="1169.0" y="748" text-anchor="middle" class="cn">4</text>
<g stroke="#b9b9b9" fill="none" stroke-width="1.3"><rect x="1211.3" y="738.3" width="17.4" height="11.4" rx="2.2"/><line x1="1217.0" x2="1217.0" y1="736.3" y2="738.6"/><line x1="1223.0" x2="1223.0" y1="736.3" y2="738.6"/></g>
<text x="1220.0" y="748" text-anchor="middle" class="cn">6</text>
<g stroke="#b9b9b9" fill="none" stroke-width="1.3"><rect x="1312.3" y="738.3" width="17.4" height="11.4" rx="2.2"/><line x1="1318.0" x2="1318.0" y1="736.3" y2="738.6"/><line x1="1324.0" x2="1324.0" y1="736.3" y2="738.6"/></g>
<text x="1321.0" y="748" text-anchor="middle" class="cn">6</text>
<g opacity="0.55">
<rect x="41.0" y="735" width="20" height="15" fill="#fff"/>
<rect x="41.0" y="735.00" width="20" height="1.15" fill="#e8313b"/>
<rect x="41.0" y="737.31" width="20" height="1.15" fill="#e8313b"/>
<rect x="41.0" y="739.62" width="20" height="1.15" fill="#e8313b"/>
<rect x="41.0" y="741.93" width="20" height="1.15" fill="#e8313b"/>
<rect x="41.0" y="744.24" width="20" height="1.15" fill="#e8313b"/>
<rect x="41.0" y="746.55" width="20" height="1.15" fill="#e8313b"/>
<rect x="41.0" y="748.86" width="20" height="1.15" fill="#e8313b"/>
<rect x="41.0" y="735" width="9" height="7.2" fill="#4a5296"/>
</g>
<g opacity="0.55">
<rect x="854.0" y="735" width="20" height="15" fill="#fff"/>
<rect x="854.0" y="735.00" width="20" height="1.15" fill="#e8313b"/>
<rect x="854.0" y="737.31" width="20" height="1.15" fill="#e8313b"/>
<rect x="854.0" y="739.62" width="20" height="1.15" fill="#e8313b"/>
<rect x="854.0" y="741.93" width="20" height="1.15" fill="#e8313b"/>
<rect x="854.0" y="744.24" width="20" height="1.15" fill="#e8313b"/>
<rect x="854.0" y="746.55" width="20" height="1.15" fill="#e8313b"/>
<rect x="854.0" y="748.86" width="20" height="1.15" fill="#e8313b"/>
<rect x="854.0" y="735" width="9" height="7.2" fill="#4a5296"/>
</g>
<g opacity="0.55">
<rect x="1362.3" y="735" width="20" height="15" fill="#fff"/>
<rect x="1362.3" y="735.00" width="20" height="1.15" fill="#e8313b"/>
<rect x="1362.3" y="737.31" width="20" height="1.15" fill="#e8313b"/>
<rect x="1362.3" y="739.62" width="20" height="1.15" fill="#e8313b"/>
<rect x="1362.3" y="741.93" width="20" height="1.15" fill="#e8313b"/>
<rect x="1362.3" y="744.24" width="20" height="1.15" fill="#e8313b"/>
<rect x="1362.3" y="746.55" width="20" height="1.15" fill="#e8313b"/>
<rect x="1362.3" y="748.86" width="20" height="1.15" fill="#e8313b"/>
<rect x="1362.3" y="735" width="9" height="7.2" fill="#4a5296"/>
</g>
<rect x="0" y="760" width="1500" height="41" fill="#dcdcdc"/>
<line x1="0" x2="1500" y1="760.5" y2="760.5" stroke="#e6e6e6" stroke-width="1"/>
<rect x="1389" y="761" width="99" height="40" fill="#fff"/>
<line x1="59.5" x2="59.5" y1="760" y2="800" stroke="#cbcbcb" stroke-width="1"/>
<line x1="59.5" x2="59.5" y1="801" y2="806" stroke="#777" stroke-width="1"/>
<line x1="247.5" x2="247.5" y1="760" y2="800" stroke="#cbcbcb" stroke-width="1"/>
<line x1="247.5" x2="247.5" y1="801" y2="806" stroke="#777" stroke-width="1"/>
<line x1="436.5" x2="436.5" y1="760" y2="800" stroke="#cbcbcb" stroke-width="1"/>
<line x1="436.5" x2="436.5" y1="801" y2="806" stroke="#777" stroke-width="1"/>
<line x1="624.5" x2="624.5" y1="760" y2="800" stroke="#cbcbcb" stroke-width="1"/>
<line x1="624.5" x2="624.5" y1="801" y2="806" stroke="#777" stroke-width="1"/>
<line x1="812.0" x2="812.0" y1="760" y2="800" stroke="#cbcbcb" stroke-width="1"/>
<line x1="812.0" x2="812.0" y1="801" y2="806" stroke="#777" stroke-width="1"/>
<line x1="1000.0" x2="1000.0" y1="760" y2="800" stroke="#cbcbcb" stroke-width="1"/>
<line x1="1000.0" x2="1000.0" y1="801" y2="806" stroke="#777" stroke-width="1"/>
<line x1="1188.0" x2="1188.0" y1="760" y2="800" stroke="#cbcbcb" stroke-width="1"/>
<line x1="1188.0" x2="1188.0" y1="801" y2="806" stroke="#777" stroke-width="1"/>
<line x1="1376.5" x2="1376.5" y1="760" y2="800" stroke="#cbcbcb" stroke-width="1"/>
<line x1="1376.5" x2="1376.5" y1="801" y2="806" stroke="#777" stroke-width="1"/>
<line x1="0" x2="1500" y1="801.2" y2="801.2" stroke="#7a7a7a" stroke-width="1.4"/>
<line x1="0.5" x2="0.5" y1="760" y2="800" stroke="#bbb" stroke-width="1"/>
<path d="M1.5 779.8v-2.0M11.5 782.2v2.0M18.5 780.6v-2.0M29.5 781.8v2.0M42.5 784.0v-2.0M51.5 787.6v1.5M59.5 786.2v1.5M70.5 783.4v-2.0M82.5 785.7v2.0M94.5 786.0v1.5M105.5 783.3v-1.5M117.5 785.0v1.5M129.5 780.6v-1.5M147.5 781.1v1.5M157.5 777.9v-1.5M170.5 776.1v-2.0M179.5 777.4v2.0M189.5 775.0v-1.5M205.5 776.7v-2.0M220.5 777.1v-2.0M232.5 777.8v1.5M248.5 776.4v2.0M261.5 773.4v2.5M267.5 773.4v1.5M282.5 774.4v2.5M294.5 772.4v-2.5M307.5 776.1v1.5M321.5 778.4v2.0M337.5 779.0v1.5M350.5 779.0v2.0M364.5 778.5v-2.5M373.5 780.1v2.5M382.5 779.2v1.5M397.5 778.4v-2.5M406.5 778.8v-1.5M420.5 778.9v-2.5M430.5 779.0v-2.0M445.5 779.3v-1.5M456.5 779.6v-2.5M472.5 779.1v-2.0M480.5 781.3v1.5M494.5 779.9v-2.0M502.5 782.1v2.0M510.5 781.8v2.0M518.5 779.4v-2.0M529.5 779.2v-2.0M540.5 782.4v2.5M551.5 781.0v-1.5M560.5 783.4v2.0M572.5 783.0v2.0M584.5 782.7v1.5M591.5 782.7v1.5M606.5 782.7v2.5M617.5 780.7v-1.5M623.5 780.7v-1.5M634.5 782.8v2.0M643.5 784.4v1.5M653.5 780.5v-1.5M667.5 781.3v-2.0M679.5 784.5v2.5M694.5 782.0v-2.0M705.5 779.4v-1.5M718.5 779.6v-2.0M731.5 776.4v-2.0M742.5 777.9v2.5M753.5 778.2v2.0M761.5 776.4v-1.5M777.5 776.0v-1.5M783.5 775.9v-1.5M799.5 775.3v1.5M814.5 775.0v1.5M830.5 773.8v-1.5M839.5 774.3v-2.5M853.5 775.9v-1.5M868.5 774.6v-1.5M882.5 775.4v2.0M891.5 775.9v2.5M900.5 775.7v-2.5M914.5 776.1v-2.0M923.5 778.4v1.5M935.5 777.9v2.5M948.5 776.6v-2.0M956.5 779.5v2.5M964.5 780.3v1.5M978.5 781.5v1.5M992.5 779.5v-1.5M1001.5 779.3v-2.0M1008.5 781.2v2.0M1015.5 781.1v2.0M1025.5 779.4v-2.5M1039.5 781.4v-2.5M1052.5 783.9v1.5M1063.5 784.6v-2.0M1069.5 784.5v-2.0M1082.5 784.0v-2.5M1094.5 788.4v2.0M1104.5 788.7v2.5M1114.5 786.5v-1.5M1127.5 788.5v-2.5M1135.5 791.7v1.5M1144.5 789.8v-1.5M1151.5 788.8v-2.5M1163.5 788.6v1.5M1170.5 787.3v2.0M1180.5 786.0v1.5M1191.5 783.5v-1.5M1199.5 783.0v-2.0M1212.5 783.5v-1.5M1218.5 783.6v-2.0M1224.5 783.0v-2.5M1230.5 784.3v2.0M1246.5 782.8v2.0M1255.5 784.2v2.5M1268.5 782.9v-2.0M1282.5 782.5v2.5M1292.5 780.4v-2.0M1302.5 783.8v2.0M1318.5 783.5v-2.5M1329.5 786.4v2.0M1337.5 786.1v2.0M1349.5 782.1v-1.5M1360.5 781.2v-2.0M1373.5 782.7v2.5M1381.5 781.5v-2.0M1390.5 782.4v-2.5M1399.5 782.0v-1.5M1411.5 783.5v2.0M1423.5 782.5v-1.5M1433.5 783.7v-1.5M1444.5 785.5v2.5M1454.5 785.3v1.5M1466.5 785.0v2.0M1476.5 784.7v2.5" stroke="#14858f" stroke-width="1" opacity="0.8" fill="none"/>
<path d="M5.5 782.0v1.5M15.5 782.5v2.0M22.5 780.5v-2.5M33.5 783.2v1.5M46.5 784.7v-1.5M55.5 787.0v1.5M66.5 785.6v1.5M73.5 783.2v-2.5M85.5 786.1v1.5M98.5 785.3v1.5M114.5 783.6v-2.0M123.5 783.8v2.5M138.5 781.5v2.5M154.5 778.4v-2.0M161.5 779.3v2.0M175.5 775.7v-1.5M186.5 776.8v2.0M198.5 776.1v-2.0M214.5 779.2v2.0M226.5 778.4v2.0M241.5 775.1v-2.5M257.5 774.1v2.0M264.5 771.4v-2.5M273.5 773.8v2.0M291.5 772.4v-2.5M300.5 774.4v2.5M316.5 778.0v2.0M328.5 777.0v-2.5M346.5 779.0v2.5M355.5 779.0v2.0M370.5 780.5v1.5M378.5 779.3v2.5M391.5 777.9v-2.5M400.5 778.7v-2.0M415.5 778.8v-1.5M427.5 778.9v-2.5M436.5 781.1v2.0M452.5 779.5v-2.5M465.5 779.4v-2.0M477.5 779.2v-1.5M487.5 779.6v-2.5M499.5 780.2v-2.0M505.5 780.0v-2.0M513.5 781.6v2.0M524.5 779.1v-2.5M536.5 780.0v-2.5M547.5 780.9v-2.5M554.5 783.1v2.0M569.5 783.1v1.5M578.5 782.9v2.0M587.5 780.7v-2.0M600.5 780.7v-1.5M611.5 782.7v2.0M620.5 782.7v1.5M630.5 780.7v-2.5M637.5 783.3v2.5M649.5 784.1v2.5M660.5 781.7v1.5M670.5 782.0v-2.0M685.5 784.8v2.0M698.5 783.1v2.0M709.5 779.1v-2.5M727.5 777.6v-2.5M735.5 775.7v-2.5M747.5 776.1v-1.5M756.5 776.3v-2.0M768.5 778.2v2.0M780.5 775.9v-2.5M790.5 775.7v-1.5M805.5 773.0v-2.5M821.5 775.4v1.5M836.5 774.1v-1.5M844.5 776.6v2.0M862.5 776.0v-1.5M875.5 776.0v2.5M887.5 773.1v-1.5M895.5 774.7v-1.5M905.5 775.9v-2.5M918.5 778.2v2.0M926.5 778.3v1.5M942.5 777.9v2.0M951.5 777.0v-2.0M959.5 777.9v-2.0M971.5 780.9v1.5M983.5 779.6v-1.5M997.5 779.4v-2.0M1005.5 779.2v-2.0M1011.5 781.2v1.5M1018.5 779.1v-2.5M1034.5 781.4v-2.5M1048.5 783.4v2.0M1057.5 783.1v-2.5M1066.5 784.6v-1.5M1076.5 786.3v2.0M1089.5 785.3v-2.0M1100.5 788.9v1.5M1111.5 786.5v-1.5M1120.5 789.5v2.5M1131.5 789.1v-1.5M1141.5 790.3v-2.5M1147.5 791.4v1.5M1160.5 789.2v1.5M1166.5 785.9v-2.5M1173.5 786.9v2.0M1185.5 785.8v2.0M1195.5 785.2v2.5M1203.5 783.1v-1.5M1215.5 785.6v2.0M1221.5 785.3v2.5M1227.5 784.6v2.0M1237.5 781.6v-2.0M1250.5 781.3v-2.5M1261.5 785.3v2.5M1277.5 783.4v2.5M1289.5 782.0v2.5M1296.5 781.0v-2.5M1309.5 784.6v2.5M1324.5 786.0v2.5M1332.5 784.6v-2.5M1342.5 783.3v-2.0M1355.5 781.3v-2.5M1367.5 780.9v-2.0M1376.5 781.0v-1.5M1387.5 784.1v1.5M1393.5 782.3v-1.5M1404.5 781.8v-2.0M1416.5 781.7v-2.5M1429.5 785.2v1.5M1439.5 785.6v2.5M1447.5 785.4v2.5M1459.5 785.2v1.5M1471.5 784.9v2.0" stroke="#c0333f" stroke-width="1" opacity="0.8" fill="none"/>
<path d="M0 779.5h2v2.0h-2zM4 779.5h2v2.0h-2zM10 779.8h2v2.5h-2zM16 780.5h2v2.0h-2zM26 779.8h2v2.5h-2zM30 780.0h2v3.0h-2zM34 782.0h2v2.0h-2zM36 782.0h2v3.0h-2zM40 783.5h2v3.0h-2zM42 783.8h2v2.5h-2zM44 784.2h2v2.5h-2zM48 785.0h2v3.0h-2zM52 784.5h2v3.0h-2zM56 784.2h2v2.5h-2zM62 783.0h2v3.0h-2zM76 782.5h2v3.0h-2zM78 783.2h2v2.5h-2zM82 784.0h2v2.0h-2zM86 783.5h2v3.0h-2zM88 784.2h2v2.5h-2zM90 784.2h2v2.5h-2zM94 783.5h2v3.0h-2zM96 783.0h2v3.0h-2zM104 783.2h2v2.5h-2zM112 783.5h2v3.0h-2zM116 782.8h2v2.5h-2zM118 782.0h2v2.0h-2zM120 781.8h2v2.5h-2zM126 780.5h2v3.0h-2zM128 780.2h2v2.5h-2zM136 779.0h2v3.0h-2zM140 778.5h2v3.0h-2zM142 779.0h2v3.0h-2zM144 778.8h2v2.5h-2zM148 778.5h2v3.0h-2zM150 778.5h2v3.0h-2zM154 778.0h2v3.0h-2zM156 777.5h2v3.0h-2zM158 777.2h2v2.5h-2zM164 776.5h2v3.0h-2zM174 775.2h2v2.5h-2zM178 775.0h2v3.0h-2zM182 775.0h2v2.0h-2zM184 774.8h2v2.5h-2zM186 774.0h2v3.0h-2zM192 775.0h2v3.0h-2zM200 776.0h2v3.0h-2zM210 776.5h2v3.0h-2zM212 777.2h2v2.5h-2zM216 777.0h2v3.0h-2zM218 776.5h2v3.0h-2zM222 777.0h2v2.0h-2zM224 776.5h2v2.0h-2zM228 775.5h2v3.0h-2zM230 775.5h2v3.0h-2zM234 775.8h2v2.5h-2zM236 775.5h2v2.0h-2zM238 775.2h2v2.5h-2zM248 773.5h2v3.0h-2zM250 773.8h2v2.5h-2zM252 772.5h2v3.0h-2zM254 772.5h2v2.0h-2zM256 771.8h2v2.5h-2zM258 771.2h2v2.5h-2zM264 771.2h2v2.5h-2zM270 771.8h2v2.5h-2zM274 772.0h2v3.0h-2zM276 772.0h2v3.0h-2zM288 772.0h2v2.0h-2zM292 771.8h2v2.5h-2zM300 772.5h2v3.0h-2zM306 773.5h2v3.0h-2zM312 775.0h2v3.0h-2zM316 775.5h2v3.0h-2zM320 776.2h2v2.5h-2zM324 776.8h2v2.5h-2zM326 776.0h2v3.0h-2zM330 776.0h2v3.0h-2zM334 777.2h2v2.5h-2zM336 776.5h2v3.0h-2zM342 776.5h2v3.0h-2zM346 777.0h2v2.0h-2zM348 776.5h2v3.0h-2zM350 776.8h2v2.5h-2zM354 776.0h2v3.0h-2zM358 777.0h2v3.0h-2zM364 778.8h2v2.5h-2zM368 778.8h2v2.5h-2zM374 777.5h2v2.0h-2zM384 778.0h2v2.0h-2zM398 778.0h2v3.0h-2zM408 778.0h2v3.0h-2zM412 779.0h2v2.0h-2zM414 778.8h2v2.5h-2zM420 779.0h2v2.0h-2zM426 778.0h2v3.0h-2zM432 778.5h2v3.0h-2zM434 778.8h2v2.5h-2zM438 778.8h2v2.5h-2zM442 778.5h2v3.0h-2zM448 779.0h2v3.0h-2zM450 779.5h2v2.0h-2zM452 778.8h2v2.5h-2zM456 779.8h2v2.5h-2zM458 779.5h2v3.0h-2zM462 779.0h2v3.0h-2zM466 779.0h2v3.0h-2zM470 778.5h2v3.0h-2zM474 779.0h2v2.0h-2zM476 778.8h2v2.5h-2zM482 779.0h2v2.0h-2zM488 779.5h2v3.0h-2zM490 779.2h2v2.5h-2zM492 779.8h2v2.5h-2zM496 780.2h2v2.5h-2zM498 780.0h2v2.0h-2zM500 780.0h2v3.0h-2zM502 779.5h2v3.0h-2zM506 780.0h2v2.0h-2zM508 779.0h2v3.0h-2zM510 779.8h2v2.5h-2zM514 779.5h2v2.0h-2zM522 779.0h2v2.0h-2zM524 778.8h2v2.5h-2zM526 778.5h2v3.0h-2zM530 779.0h2v3.0h-2zM534 779.5h2v3.0h-2zM536 779.5h2v3.0h-2zM540 781.0h2v2.0h-2zM546 780.5h2v2.0h-2zM552 781.0h2v2.0h-2zM558 781.2h2v2.5h-2zM560 780.8h2v2.5h-2zM562 780.5h2v3.0h-2zM564 780.5h2v3.0h-2zM570 780.8h2v2.5h-2zM574 780.5h2v2.0h-2zM576 780.2h2v2.5h-2zM580 780.5h2v3.0h-2zM582 780.5h2v3.0h-2zM590 780.5h2v3.0h-2zM592 780.5h2v3.0h-2zM594 781.0h2v2.0h-2zM596 780.2h2v2.5h-2zM598 780.5h2v3.0h-2zM604 780.0h2v3.0h-2zM608 780.2h2v2.5h-2zM614 780.5h2v3.0h-2zM616 780.5h2v2.0h-2zM618 780.5h2v3.0h-2zM636 781.0h2v3.0h-2zM640 781.8h2v2.5h-2zM648 781.8h2v2.5h-2zM654 779.5h2v3.0h-2zM656 779.5h2v2.0h-2zM664 780.5h2v3.0h-2zM666 781.0h2v3.0h-2zM676 782.0h2v2.0h-2zM678 781.8h2v2.5h-2zM680 782.5h2v3.0h-2zM686 782.5h2v3.0h-2zM690 782.0h2v3.0h-2zM692 782.2h2v2.5h-2zM694 781.5h2v3.0h-2zM696 780.8h2v2.5h-2zM698 780.5h2v3.0h-2zM702 779.8h2v2.5h-2zM708 778.8h2v2.5h-2zM712 779.0h2v3.0h-2zM716 780.0h2v2.0h-2zM718 779.5h2v3.0h-2zM722 778.0h2v3.0h-2zM726 777.5h2v3.0h-2zM732 775.5h2v3.0h-2zM736 775.8h2v2.5h-2zM740 775.5h2v3.0h-2zM742 775.5h2v3.0h-2zM744 775.5h2v3.0h-2zM750 776.0h2v2.0h-2zM756 775.8h2v2.5h-2zM758 776.5h2v2.0h-2zM760 776.0h2v3.0h-2zM762 775.5h2v3.0h-2zM766 776.0h2v2.0h-2zM768 775.8h2v2.5h-2zM772 775.5h2v3.0h-2zM774 775.5h2v3.0h-2zM776 776.0h2v3.0h-2zM780 775.8h2v2.5h-2zM782 775.0h2v3.0h-2zM784 775.2h2v2.5h-2zM788 775.5h2v3.0h-2zM790 775.0h2v3.0h-2zM792 774.5h2v3.0h-2zM794 774.0h2v2.0h-2zM798 773.5h2v2.0h-2zM800 772.5h2v2.0h-2zM802 772.8h2v2.5h-2zM804 773.0h2v2.0h-2zM806 772.8h2v2.5h-2zM812 773.0h2v3.0h-2zM818 773.0h2v3.0h-2zM820 773.5h2v2.0h-2zM822 773.2h2v2.5h-2zM828 773.5h2v2.0h-2zM832 773.8h2v2.5h-2zM836 774.0h2v3.0h-2zM838 774.5h2v2.0h-2zM846 774.5h2v3.0h-2zM868 774.2h2v2.5h-2zM870 773.5h2v3.0h-2zM876 773.2h2v2.5h-2zM882 773.0h2v3.0h-2zM886 772.5h2v3.0h-2zM888 773.2h2v2.5h-2zM890 773.5h2v2.0h-2zM894 775.0h2v2.0h-2zM898 775.0h2v3.0h-2zM900 775.2h2v2.5h-2zM906 776.0h2v2.0h-2zM908 776.0h2v2.0h-2zM910 775.5h2v3.0h-2zM912 775.8h2v2.5h-2zM916 776.0h2v2.0h-2zM920 775.8h2v2.5h-2zM924 776.0h2v3.0h-2zM930 776.5h2v2.0h-2zM932 776.2h2v2.5h-2zM934 775.5h2v3.0h-2zM936 775.5h2v3.0h-2zM942 775.8h2v2.5h-2zM946 776.0h2v3.0h-2zM950 776.2h2v2.5h-2zM952 776.8h2v2.5h-2zM956 777.8h2v2.5h-2zM958 777.5h2v2.0h-2zM964 778.0h2v3.0h-2zM968 779.0h2v2.0h-2zM970 778.8h2v2.5h-2zM972 778.8h2v2.5h-2zM980 779.2h2v2.5h-2zM992 779.0h2v3.0h-2zM996 778.8h2v2.5h-2zM1004 779.2h2v2.5h-2zM1008 778.8h2v2.5h-2zM1026 779.2h2v2.5h-2zM1040 781.0h2v3.0h-2zM1042 780.5h2v3.0h-2zM1046 781.0h2v3.0h-2zM1048 781.0h2v3.0h-2zM1050 781.0h2v3.0h-2zM1054 782.0h2v3.0h-2zM1058 783.2h2v2.5h-2zM1060 784.0h2v2.0h-2zM1064 784.8h2v2.5h-2zM1066 784.5h2v3.0h-2zM1070 784.0h2v3.0h-2zM1072 783.8h2v2.5h-2zM1078 784.5h2v2.0h-2zM1082 783.5h2v3.0h-2zM1086 784.2h2v2.5h-2zM1092 786.0h2v2.0h-2zM1098 786.5h2v3.0h-2zM1104 786.2h2v2.5h-2zM1106 786.5h2v3.0h-2zM1108 786.5h2v2.0h-2zM1112 786.0h2v3.0h-2zM1114 786.5h2v3.0h-2zM1118 787.5h2v2.0h-2zM1120 787.5h2v2.0h-2zM1130 788.8h2v2.5h-2zM1140 790.0h2v2.0h-2zM1142 789.8h2v2.5h-2zM1148 788.8h2v2.5h-2zM1150 788.5h2v3.0h-2zM1152 788.0h2v3.0h-2zM1156 788.0h2v2.0h-2zM1160 786.5h2v3.0h-2zM1166 785.8h2v2.5h-2zM1170 785.2h2v2.5h-2zM1174 784.2h2v2.5h-2zM1180 783.8h2v2.5h-2zM1182 783.5h2v3.0h-2zM1188 783.0h2v3.0h-2zM1190 783.0h2v2.0h-2zM1198 782.5h2v3.0h-2zM1202 783.0h2v3.0h-2zM1208 782.8h2v2.5h-2zM1212 783.0h2v3.0h-2zM1214 783.8h2v2.5h-2zM1224 782.5h2v3.0h-2zM1236 781.0h2v3.0h-2zM1246 780.0h2v3.0h-2zM1248 780.8h2v2.5h-2zM1252 781.8h2v2.5h-2zM1256 782.5h2v3.0h-2zM1262 783.0h2v3.0h-2zM1270 782.0h2v3.0h-2zM1272 781.0h2v3.0h-2zM1278 781.2h2v2.5h-2zM1280 780.0h2v3.0h-2zM1282 779.8h2v2.5h-2zM1284 779.5h2v3.0h-2zM1292 780.0h2v3.0h-2zM1298 781.2h2v2.5h-2zM1300 781.0h2v3.0h-2zM1304 782.0h2v3.0h-2zM1308 782.0h2v3.0h-2zM1314 783.0h2v3.0h-2zM1318 783.8h2v2.5h-2zM1320 783.2h2v2.5h-2zM1324 783.5h2v3.0h-2zM1330 784.0h2v3.0h-2zM1332 784.5h2v2.0h-2zM1334 784.2h2v2.5h-2zM1336 784.5h2v2.0h-2zM1338 783.5h2v3.0h-2zM1346 782.5h2v2.0h-2zM1354 781.0h2v3.0h-2zM1358 781.0h2v2.0h-2zM1360 781.2h2v2.5h-2zM1364 780.0h2v3.0h-2zM1366 780.0h2v3.0h-2zM1368 780.5h2v3.0h-2zM1380 781.2h2v2.5h-2zM1384 781.5h2v3.0h-2zM1388 782.0h2v2.0h-2zM1390 782.0h2v3.0h-2zM1394 782.5h2v2.0h-2zM1396 782.5h2v2.0h-2zM1400 781.5h2v3.0h-2zM1402 781.5h2v3.0h-2zM1404 781.0h2v3.0h-2zM1406 781.0h2v3.0h-2zM1410 781.2h2v2.5h-2zM1416 781.2h2v2.5h-2zM1422 783.0h2v2.0h-2zM1424 783.0h2v2.0h-2zM1432 784.0h2v2.0h-2zM1434 783.5h2v3.0h-2zM1440 783.0h2v3.0h-2zM1448 783.0h2v2.0h-2zM1456 783.0h2v3.0h-2zM1460 782.5h2v3.0h-2zM1462 783.0h2v2.0h-2zM1464 783.2h2v2.5h-2zM1470 782.5h2v3.0h-2zM1474 783.0h2v2.0h-2zM1476 782.0h2v3.0h-2zM1482 781.8h2v2.5h-2z" fill="#14858f"/>
<path d="M2 779.8h2v2.5h-2zM6 779.8h2v2.5h-2zM8 779.5h2v3.0h-2zM12 779.5h2v3.0h-2zM14 780.2h2v2.5h-2zM18 780.0h2v3.0h-2zM20 780.2h2v2.5h-2zM22 780.0h2v3.0h-2zM24 779.5h2v3.0h-2zM28 780.0h2v2.0h-2zM32 780.5h2v3.0h-2zM38 783.5h2v2.0h-2zM46 784.5h2v3.0h-2zM50 785.5h2v2.0h-2zM54 785.2h2v2.5h-2zM58 784.5h2v2.0h-2zM60 783.5h2v3.0h-2zM64 783.2h2v2.5h-2zM66 783.2h2v2.5h-2zM68 783.5h2v2.0h-2zM70 783.0h2v3.0h-2zM72 783.5h2v2.0h-2zM74 783.0h2v3.0h-2zM80 784.0h2v2.0h-2zM84 783.8h2v2.5h-2zM92 784.0h2v2.0h-2zM98 782.5h2v3.0h-2zM100 783.0h2v2.0h-2zM102 783.0h2v2.0h-2zM106 783.0h2v3.0h-2zM108 782.5h2v3.0h-2zM110 783.2h2v2.5h-2zM114 783.0h2v3.0h-2zM122 781.5h2v3.0h-2zM124 781.0h2v3.0h-2zM134 780.0h2v2.0h-2zM138 779.2h2v2.5h-2zM146 779.0h2v3.0h-2zM152 778.5h2v2.0h-2zM160 777.2h2v2.5h-2zM162 777.0h2v3.0h-2zM170 776.0h2v2.0h-2zM172 775.5h2v2.0h-2zM176 775.0h2v3.0h-2zM188 775.2h2v2.5h-2zM190 774.8h2v2.5h-2zM194 775.8h2v2.5h-2zM196 776.0h2v2.0h-2zM198 775.8h2v2.5h-2zM202 776.0h2v3.0h-2zM204 776.8h2v2.5h-2zM208 776.0h2v3.0h-2zM214 777.0h2v3.0h-2zM220 776.0h2v3.0h-2zM226 776.5h2v2.0h-2zM240 775.0h2v2.0h-2zM244 774.0h2v3.0h-2zM246 774.5h2v2.0h-2zM260 771.0h2v2.0h-2zM262 771.0h2v3.0h-2zM266 771.0h2v3.0h-2zM268 771.0h2v3.0h-2zM272 771.0h2v3.0h-2zM278 772.0h2v3.0h-2zM280 772.0h2v3.0h-2zM284 772.2h2v2.5h-2zM286 772.0h2v3.0h-2zM290 772.5h2v2.0h-2zM294 771.8h2v2.5h-2zM296 772.5h2v2.0h-2zM298 772.2h2v2.5h-2zM302 772.5h2v3.0h-2zM304 773.0h2v3.0h-2zM308 774.0h2v3.0h-2zM310 774.5h2v3.0h-2zM314 775.8h2v2.5h-2zM322 776.0h2v3.0h-2zM328 777.0h2v2.0h-2zM332 777.0h2v3.0h-2zM344 776.8h2v2.5h-2zM352 776.5h2v3.0h-2zM356 776.5h2v3.0h-2zM362 777.5h2v3.0h-2zM366 779.0h2v2.0h-2zM376 776.5h2v3.0h-2zM378 777.0h2v3.0h-2zM380 776.5h2v3.0h-2zM382 776.5h2v3.0h-2zM386 777.5h2v2.0h-2zM388 777.5h2v3.0h-2zM392 777.8h2v2.5h-2zM394 777.5h2v3.0h-2zM396 778.0h2v3.0h-2zM400 778.0h2v3.0h-2zM402 778.0h2v3.0h-2zM404 778.5h2v3.0h-2zM406 778.5h2v2.0h-2zM410 778.5h2v3.0h-2zM416 778.5h2v3.0h-2zM418 778.5h2v3.0h-2zM422 778.5h2v3.0h-2zM424 779.0h2v2.0h-2zM428 778.2h2v2.5h-2zM430 779.0h2v2.0h-2zM436 778.8h2v2.5h-2zM440 779.5h2v2.0h-2zM444 779.5h2v2.0h-2zM446 778.8h2v2.5h-2zM460 779.0h2v3.0h-2zM464 779.2h2v2.5h-2zM468 778.5h2v3.0h-2zM472 779.0h2v2.0h-2zM478 778.5h2v3.0h-2zM480 778.8h2v2.5h-2zM484 779.2h2v2.5h-2zM494 779.5h2v3.0h-2zM504 779.5h2v3.0h-2zM512 779.5h2v3.0h-2zM516 778.5h2v3.0h-2zM520 779.2h2v2.5h-2zM528 779.0h2v3.0h-2zM532 779.0h2v3.0h-2zM538 779.5h2v3.0h-2zM542 780.0h2v3.0h-2zM544 780.0h2v3.0h-2zM548 780.5h2v3.0h-2zM550 780.5h2v3.0h-2zM554 781.0h2v2.0h-2zM556 780.5h2v3.0h-2zM568 780.5h2v3.0h-2zM572 781.0h2v3.0h-2zM578 780.5h2v3.0h-2zM584 780.5h2v3.0h-2zM586 780.5h2v2.0h-2zM588 780.0h2v3.0h-2zM600 780.0h2v3.0h-2zM606 780.8h2v2.5h-2zM612 780.5h2v2.0h-2zM620 780.5h2v2.0h-2zM622 781.0h2v2.0h-2zM624 781.0h2v2.0h-2zM626 780.0h2v3.0h-2zM630 780.0h2v3.0h-2zM632 780.5h2v3.0h-2zM638 781.5h2v2.0h-2zM644 782.2h2v2.5h-2zM646 782.5h2v3.0h-2zM650 781.5h2v2.0h-2zM652 780.5h2v2.0h-2zM658 779.2h2v2.5h-2zM660 779.5h2v3.0h-2zM662 780.0h2v2.0h-2zM668 781.5h2v3.0h-2zM670 781.8h2v2.5h-2zM672 781.8h2v2.5h-2zM674 782.0h2v3.0h-2zM682 782.0h2v3.0h-2zM688 782.5h2v3.0h-2zM706 778.5h2v3.0h-2zM710 778.8h2v2.5h-2zM714 779.2h2v2.5h-2zM724 778.0h2v3.0h-2zM728 777.0h2v2.0h-2zM730 776.2h2v2.5h-2zM734 775.2h2v2.5h-2zM738 775.0h2v3.0h-2zM746 776.0h2v2.0h-2zM748 776.2h2v2.5h-2zM752 776.0h2v2.0h-2zM754 776.0h2v3.0h-2zM764 776.0h2v3.0h-2zM770 776.0h2v2.0h-2zM778 775.5h2v3.0h-2zM786 775.5h2v2.0h-2zM796 773.5h2v3.0h-2zM810 772.5h2v3.0h-2zM816 773.0h2v2.0h-2zM824 773.0h2v3.0h-2zM830 773.0h2v3.0h-2zM834 774.2h2v2.5h-2zM842 774.0h2v3.0h-2zM844 774.0h2v3.0h-2zM848 775.0h2v2.0h-2zM850 775.0h2v3.0h-2zM852 775.5h2v3.0h-2zM854 776.5h2v2.0h-2zM856 776.5h2v3.0h-2zM860 775.8h2v2.5h-2zM862 775.2h2v2.5h-2zM866 774.5h2v2.0h-2zM872 773.5h2v3.0h-2zM874 773.8h2v2.5h-2zM880 773.0h2v3.0h-2zM884 773.2h2v2.5h-2zM892 773.5h2v3.0h-2zM896 774.5h2v3.0h-2zM902 775.2h2v2.5h-2zM918 776.0h2v3.0h-2zM922 776.5h2v2.0h-2zM926 775.8h2v2.5h-2zM928 776.2h2v2.5h-2zM938 775.0h2v3.0h-2zM944 775.5h2v3.0h-2zM948 776.5h2v2.0h-2zM954 777.8h2v2.5h-2zM960 777.5h2v3.0h-2zM962 777.8h2v2.5h-2zM966 778.2h2v2.5h-2zM974 779.0h2v3.0h-2zM976 779.0h2v3.0h-2zM978 779.0h2v3.0h-2zM982 779.5h2v3.0h-2zM984 779.5h2v2.0h-2zM986 779.5h2v2.0h-2zM988 779.0h2v3.0h-2zM990 779.5h2v2.0h-2zM994 779.5h2v2.0h-2zM998 779.0h2v2.0h-2zM1000 778.5h2v3.0h-2zM1002 778.8h2v2.5h-2zM1006 778.5h2v3.0h-2zM1010 779.0h2v3.0h-2zM1012 778.5h2v3.0h-2zM1014 779.0h2v2.0h-2zM1016 778.5h2v3.0h-2zM1018 778.5h2v3.0h-2zM1022 778.8h2v2.5h-2zM1028 780.0h2v3.0h-2zM1030 781.0h2v2.0h-2zM1032 780.5h2v3.0h-2zM1038 780.5h2v3.0h-2zM1044 780.5h2v3.0h-2zM1052 781.8h2v2.5h-2zM1056 782.8h2v2.5h-2zM1062 784.0h2v3.0h-2zM1068 784.0h2v3.0h-2zM1074 784.0h2v2.0h-2zM1076 783.5h2v3.0h-2zM1080 783.5h2v3.0h-2zM1084 784.0h2v3.0h-2zM1088 784.5h2v3.0h-2zM1090 785.0h2v3.0h-2zM1094 786.0h2v3.0h-2zM1096 787.0h2v3.0h-2zM1100 786.5h2v3.0h-2zM1102 787.0h2v2.0h-2zM1110 786.0h2v3.0h-2zM1116 786.8h2v2.5h-2zM1124 788.0h2v3.0h-2zM1126 788.8h2v2.5h-2zM1128 788.2h2v2.5h-2zM1134 789.0h2v3.0h-2zM1136 790.0h2v2.0h-2zM1138 790.2h2v2.5h-2zM1146 789.0h2v3.0h-2zM1154 788.2h2v2.5h-2zM1158 787.0h2v3.0h-2zM1162 786.0h2v3.0h-2zM1164 785.5h2v3.0h-2zM1168 785.0h2v3.0h-2zM1172 784.2h2v2.5h-2zM1176 783.5h2v3.0h-2zM1178 783.5h2v3.0h-2zM1184 783.8h2v2.5h-2zM1186 783.5h2v2.0h-2zM1192 783.2h2v2.5h-2zM1194 782.5h2v3.0h-2zM1196 783.0h2v3.0h-2zM1200 782.8h2v2.5h-2zM1204 783.0h2v3.0h-2zM1206 783.0h2v2.0h-2zM1216 783.0h2v3.0h-2zM1218 784.0h2v2.0h-2zM1220 783.0h2v2.0h-2zM1222 783.2h2v2.5h-2zM1226 782.5h2v3.0h-2zM1228 783.0h2v2.0h-2zM1230 781.5h2v3.0h-2zM1232 781.5h2v3.0h-2zM1234 781.8h2v2.5h-2zM1238 780.8h2v2.5h-2zM1242 780.5h2v3.0h-2zM1244 780.0h2v3.0h-2zM1250 781.0h2v3.0h-2zM1254 782.0h2v3.0h-2zM1258 782.5h2v3.0h-2zM1260 783.0h2v2.0h-2zM1266 783.0h2v3.0h-2zM1268 782.5h2v3.0h-2zM1274 782.0h2v2.0h-2zM1276 781.2h2v2.5h-2zM1286 779.0h2v3.0h-2zM1288 780.0h2v3.0h-2zM1290 780.5h2v2.0h-2zM1294 780.2h2v2.5h-2zM1306 781.5h2v3.0h-2zM1310 782.2h2v2.5h-2zM1312 783.5h2v2.0h-2zM1316 783.0h2v3.0h-2zM1322 783.5h2v3.0h-2zM1326 784.0h2v2.0h-2zM1328 783.8h2v2.5h-2zM1340 783.2h2v2.5h-2zM1342 783.0h2v2.0h-2zM1348 782.2h2v2.5h-2zM1350 781.8h2v2.5h-2zM1352 781.5h2v2.0h-2zM1356 781.5h2v2.0h-2zM1362 780.5h2v3.0h-2zM1370 780.8h2v2.5h-2zM1374 780.5h2v3.0h-2zM1376 781.0h2v3.0h-2zM1378 781.0h2v2.0h-2zM1382 781.0h2v3.0h-2zM1386 781.8h2v2.5h-2zM1392 781.8h2v2.5h-2zM1398 781.8h2v2.5h-2zM1408 781.0h2v3.0h-2zM1412 781.0h2v3.0h-2zM1414 781.5h2v3.0h-2zM1418 781.5h2v3.0h-2zM1420 782.0h2v3.0h-2zM1426 782.5h2v3.0h-2zM1428 783.5h2v2.0h-2zM1430 783.5h2v3.0h-2zM1436 783.5h2v3.0h-2zM1438 783.5h2v2.0h-2zM1444 784.0h2v2.0h-2zM1446 783.2h2v2.5h-2zM1450 782.8h2v2.5h-2zM1452 783.0h2v3.0h-2zM1458 782.5h2v3.0h-2zM1466 782.5h2v3.0h-2zM1468 782.8h2v2.5h-2zM1472 782.5h2v3.0h-2zM1478 782.0h2v3.0h-2zM1480 782.2h2v2.5h-2zM1484 781.5h2v3.0h-2z" fill="#c0333f"/>
<line x1="1389" x2="1389" y1="760" y2="801" stroke="#9a9a9a" stroke-width="1.6"/>
<rect x="1386.6" y="768.6" width="4.8" height="24.4" rx="2.4" fill="#a0a0a0"/>
<line x1="1488" x2="1488" y1="760" y2="801" stroke="#9a9a9a" stroke-width="1.6"/>
<rect x="1485.6" y="768.6" width="4.8" height="24.4" rx="2.4" fill="#a0a0a0"/>
<rect x="2" y="763" width="14.5" height="14.5" fill="#fff"/>
<path d="M5.3 766.2 L13.2 774.2 M13.2 766.2 L5.3 774.2" stroke="#8a8a8a" stroke-width="2.4"/>
<text x="59.5" y="817" text-anchor="middle" class="dt">2017</text>
<text x="247.5" y="817" text-anchor="middle" class="dt">2018</text>
<text x="436.5" y="817" text-anchor="middle" class="dt">2019</text>
<text x="624.5" y="817" text-anchor="middle" class="dt">2020</text>
<text x="812.0" y="817" text-anchor="middle" class="dt">2021</text>
<text x="1000.0" y="817" text-anchor="middle" class="dt">2022</text>
<text x="1188.0" y="817" text-anchor="middle" class="dt">2023</text>
<text x="1376.5" y="817" text-anchor="middle" class="dt">2024</text>
<text x="-0.5" y="817" class="dt">16</text>
<path d="M1492.5 830 L1500 822.5 M1494.7 830 L1500 824.7 M1496.9 830 L1500 826.9 M1499 830 L1500 829" stroke="#333" stroke-width="1"/>
</svg>
<div class="titlebar">
<div class="logo"><svg width="22" height="22" viewBox="0 0 22 22"><path d="M1.5 4H20.5M1.5 7.6H20.5M1.5 11.2H20.5M1.5 14.6H20.5M1.5 18H20.5" stroke="#e2e2e2" stroke-width="1"/><path d="M2.8 17.6 L7 10 L12.4 11.8 L18.8 4.8" fill="none" stroke="#1a8794" stroke-width="2" stroke-linejoin="miter"/></svg></div>
<div class="title">SPOT, EUR/USD</div>
<svg class="ic" style="left:157px;top:11px" width="17" height="17" viewBox="0 0 17 17"><circle cx="5.7" cy="6.4" r="3.7" fill="none" stroke="#e0e0e0" stroke-width="1.3"/><path d="M8.6 9.2 L14.6 14" stroke="#e0e0e0" stroke-width="1.6" stroke-linecap="round"/></svg>
<svg class="ic" style="left:1426px;top:8px" width="68" height="22" viewBox="0 0 68 22"><path d="M3 16.8 H16" stroke="#ddd" stroke-width="1.8"/><rect x="25.8" y="9.1" width="8" height="8" fill="none" stroke="#ddd" stroke-width="1.6"/><path d="M30 13 H37" stroke="#000" stroke-width="4"/><path d="M30 13 H37" stroke="#ddd" stroke-width="2"/><path d="M36 10 L39.7 13 L36 16 Z" fill="#ddd"/><path d="M34 6 H40 M37 3 V9" stroke="#ddd" stroke-width="1.8"/><path d="M48.5 3.5 L63 17.7 M63 3.5 L48.5 17.7" stroke="#ddd" stroke-width="1.3"/></svg>
</div>
<div class="toolbar">
<div class="tb" style="left:12px">Daily</div><div class="tri" style="left:49px"></div>
<div class="tb" style="left:79px">Technical</div><div class="tri" style="left:143.5px"></div>
<div class="tb" style="left:173px">Display</div><div class="tri" style="left:225px"></div>
<div class="tb" style="left:254px">More</div><div class="tri" style="left:292px"></div>
<svg class="ic" style="left:321px;top:10px" width="19" height="18" viewBox="0 0 19 18"><path d="M2 15 V4.3 a1 1 0 0 1 1 -1 H6.5 L8.3 5.2 H13 a1 1 0 0 1 1 1 V7.5" fill="none" stroke="#333" stroke-width="1.1"/><path d="M3 15.5 L6 8.3 H17.3 L14.2 15.5 Z" fill="#333"/></svg>
<svg class="ic" style="left:356px;top:11px" width="17" height="17" viewBox="0 0 17 17"><path d="M1 2.5 a1.5 1.5 0 0 1 1.5 -1.5 H12.5 L15.5 4 V14.5 a1.5 1.5 0 0 1 -1.5 1.5 H2.5 a1.5 1.5 0 0 1 -1.5 -1.5 Z" fill="#333"/><rect x="4.3" y="1.6" width="7" height="4.2" fill="#fff"/><rect x="8.7" y="2.3" width="1.5" height="2.7" fill="#333"/><rect x="3" y="8.6" width="10.5" height="5.4" fill="#fff"/></svg>
<div class="ic" style="left:390px;top:17.5px;width:13px;height:3.4px;background:#000"></div>
<div class="ic" style="left:422px;top:18px;width:13px;height:3.4px;background:#000"></div>
<div class="ic" style="left:426.8px;top:13.2px;width:3.4px;height:13px;background:#000"></div>
<div class="cp">CURRENT PRICE:</div>
<div class="pbox" style="left:1316px;background:#c02a3a"><svg class="ic" style="left:4px;top:1px" width="10" height="11" viewBox="0 0 10 11"><path d="M2.8 0 H7.2 V5 H10 L5 10.5 L0 5 H2.8 Z" fill="#8e1220"/></svg><span style="position:absolute;left:14.5px">1.0961<small>6</small></span></div>
<div class="pbox" style="left:1411px;background:#17889a"><svg class="ic" style="left:69px;top:1px" width="10" height="11" viewBox="0 0 10 11"><path d="M2.8 10.5 H7.2 V5.5 H10 L5 0 L0 5.5 H2.8 Z" fill="#0d5f6e"/></svg><span style="position:absolute;left:14.5px">1.0962<small>4</small></span></div>
</div>
<div class="ind" style="left:10px;top:558px"><b>CANDLE PTNS</b> 12</div>
<div class="ind" style="left:142px;top:558px"><b>PRO TRENDS</b> 150 3 10 2 14 2 3 8</div>
<div class="ind" style="left:347px;top:558px"><b>VWAP</b> 20 1 2 3</div>
<div class="ind" style="left:10px;top:640px"><b>RSI</b> 14</div>
<svg class="ic" style="left:101px;top:558px" width="12" height="12" viewBox="-6.5 -6.5 13 13"><g fill="#959595"><rect x="-1.5" y="-6.2" width="3" height="12.4" transform="rotate(0)"/><rect x="-1.5" y="-6.2" width="3" height="12.4" transform="rotate(45)"/><rect x="-1.5" y="-6.2" width="3" height="12.4" transform="rotate(90)"/><rect x="-1.5" y="-6.2" width="3" height="12.4" transform="rotate(135)"/><circle r="4.4"/></g><circle r="2" fill="#fff"/></svg><svg class="ic" style="left:119.5px;top:559px" width="10" height="10" viewBox="0 0 11 11"><path d="M1.5 1.5 L9.5 9.5 M9.5 1.5 L1.5 9.5" stroke="#959595" stroke-width="2.6"/></svg><svg class="ic" style="left:306px;top:558px" width="12" height="12" viewBox="-6.5 -6.5 13 13"><g fill="#959595"><rect x="-1.5" y="-6.2" width="3" height="12.4" transform="rotate(0)"/><rect x="-1.5" y="-6.2" width="3" height="12.4" transform="rotate(45)"/><rect x="-1.5" y="-6.2" width="3" height="12.4" transform="rotate(90)"/><rect x="-1.5" y="-6.2" width="3" height="12.4" transform="rotate(135)"/><circle r="4.4"/></g><circle r="2" fill="#fff"/></svg><svg class="ic" style="left:324px;top:559px" width="10" height="10" viewBox="0 0 11 11"><path d="M1.5 1.5 L9.5 9.5 M9.5 1.5 L1.5 9.5" stroke="#959595" stroke-width="2.6"/></svg><svg class="ic" style="left:423px;top:558px" width="12" height="12" viewBox="-6.5 -6.5 13 13"><g fill="#959595"><rect x="-1.5" y="-6.2" width="3" height="12.4" transform="rotate(0)"/><rect x="-1.5" y="-6.2" width="3" height="12.4" transform="rotate(45)"/><rect x="-1.5" y="-6.2" width="3" height="12.4" transform="rotate(90)"/><rect x="-1.5" y="-6.2" width="3" height="12.4" transform="rotate(135)"/><circle r="4.4"/></g><circle r="2" fill="#fff"/></svg><svg class="ic" style="left:441px;top:559px" width="10" height="10" viewBox="0 0 11 11"><path d="M1.5 1.5 L9.5 9.5 M9.5 1.5 L1.5 9.5" stroke="#959595" stroke-width="2.6"/></svg><svg class="ic" style="left:46px;top:640.5px" width="12" height="12" viewBox="-6.5 -6.5 13 13"><g fill="#959595"><rect x="-1.5" y="-6.2" width="3" height="12.4" transform="rotate(0)"/><rect x="-1.5" y="-6.2" width="3" height="12.4" transform="rotate(45)"/><rect x="-1.5" y="-6.2" width="3" height="12.4" transform="rotate(90)"/><rect x="-1.5" y="-6.2" width="3" height="12.4" transform="rotate(135)"/><circle r="4.4"/></g><circle r="2" fill="#fff"/></svg><svg class="ic" style="left:64px;top:641.5px" width="10" height="10" viewBox="0 0 11 11"><path d="M1.5 1.5 L9.5 9.5 M9.5 1.5 L1.5 9.5" stroke="#959595" stroke-width="2.6"/></svg>
<div class="st g" style="left:10px;top:587px">TODAY:</div><div class="st g" style="left:62.5px;top:587px">H:</div><div class="st" style="left:76.5px;top:587px">1.09750</div><div class="st g" style="left:123px;top:587px">L:</div><div class="st" style="left:134px;top:587px">1.08926</div><div class="st t" style="left:185.5px;top:587px">0.00490</div><div class="st t" style="left:240.5px;top:587px">0.4%</div>
<div class="st g" style="left:10px;top:601px">CHART:</div><div class="st g" style="left:62.5px;top:601px">H:</div><div class="st" style="left:76.5px;top:601px">1.09812</div><div class="st g" style="left:123px;top:601px">L:</div><div class="st" style="left:134px;top:601px">1.06012</div><div class="st t" style="left:185.5px;top:601px">0.01196</div><div class="st t" style="left:240.5px;top:601px">1.1%</div>
</body></html>
